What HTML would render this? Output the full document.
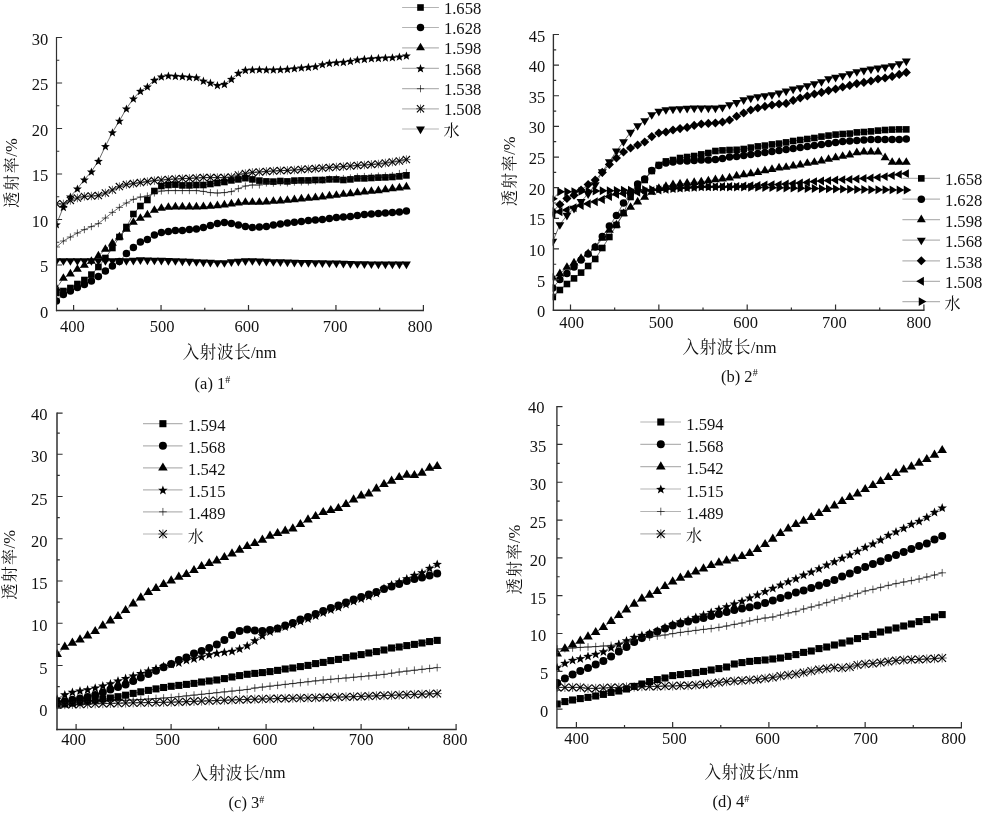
<!DOCTYPE html>
<html><head><meta charset="utf-8"><title>Figure</title>
<style>html,body{margin:0;padding:0;background:#fff}svg{display:block;will-change:transform}text{fill:#111;font-family:"Liberation Serif","Noto Serif CJK SC",serif}</style></head>
<body><svg width="1000" height="814" viewBox="0 0 1000 814">
<text x="48.2" y="317.9" font-size="16.5" text-anchor="end"  >0</text>
<text x="48.2" y="272.4" font-size="16.5" text-anchor="end"  >5</text>
<text x="48.2" y="226.9" font-size="16.5" text-anchor="end"  >10</text>
<text x="48.2" y="181.4" font-size="16.5" text-anchor="end"  >15</text>
<text x="48.2" y="135.9" font-size="16.5" text-anchor="end"  >20</text>
<text x="48.2" y="90.4" font-size="16.5" text-anchor="end"  >25</text>
<text x="48.2" y="44.9" font-size="16.5" text-anchor="end"  >30</text>
<text x="72.4" y="332.4" font-size="16.5" text-anchor="middle"  >400</text>
<text x="162" y="332.4" font-size="16.5" text-anchor="middle"  >500</text>
<text x="246.8" y="332.4" font-size="16.5" text-anchor="middle"  >600</text>
<text x="335" y="332.4" font-size="16.5" text-anchor="middle"  >700</text>
<text x="420" y="332.4" font-size="16.5" text-anchor="middle"  >800</text>
<clipPath id="ca"><rect x="55.9" y="0" width="1000" height="814"/></clipPath>
<g clip-path="url(#ca)">
<polyline points="56.4,293 63.4,291 70.4,288 77.4,284 84.4,280 91.4,274.6 98.4,267 105.4,258 112.4,248 119.4,237 126.4,227 133.4,214 140.4,206 147.4,200 154.4,191 161.4,186 168.4,185 175.4,184.6 182.4,185.4 189.4,185.4 196.4,185 203.4,185 210.4,184 217.4,183 224.4,182 231.4,180.4 238.4,179.4 245.4,178.2 252.4,179.4 259.4,180.6 266.4,181.4 273.4,181.6 280.4,181 287.4,181.4 294.4,180.6 301.4,180.4 308.4,180.4 315.4,180 322.4,180 329.4,179.4 336.4,179.4 343.4,180 350.4,179.4 357.4,178.4 364.4,178.4 371.4,178 378.4,177.6 385.4,177.4 392.4,177 399.4,176.4 406.4,175.4" fill="none" stroke="#2c2c2c" stroke-width="0.7"/>
<g fill="#000">
<rect x="53.1" y="289.7" width="6.6" height="6.6"/>
<rect x="60.1" y="287.7" width="6.6" height="6.6"/>
<rect x="67.1" y="284.7" width="6.6" height="6.6"/>
<rect x="74.1" y="280.7" width="6.6" height="6.6"/>
<rect x="81.1" y="276.7" width="6.6" height="6.6"/>
<rect x="88.1" y="271.3" width="6.6" height="6.6"/>
<rect x="95.1" y="263.7" width="6.6" height="6.6"/>
<rect x="102.1" y="254.7" width="6.6" height="6.6"/>
<rect x="109.1" y="244.7" width="6.6" height="6.6"/>
<rect x="116.1" y="233.7" width="6.6" height="6.6"/>
<rect x="123.1" y="223.7" width="6.6" height="6.6"/>
<rect x="130.1" y="210.7" width="6.6" height="6.6"/>
<rect x="137.1" y="202.7" width="6.6" height="6.6"/>
<rect x="144.1" y="196.7" width="6.6" height="6.6"/>
<rect x="151.1" y="187.7" width="6.6" height="6.6"/>
<rect x="158.1" y="182.7" width="6.6" height="6.6"/>
<rect x="165.1" y="181.7" width="6.6" height="6.6"/>
<rect x="172.1" y="181.3" width="6.6" height="6.6"/>
<rect x="179.1" y="182.1" width="6.6" height="6.6"/>
<rect x="186.1" y="182.1" width="6.6" height="6.6"/>
<rect x="193.1" y="181.7" width="6.6" height="6.6"/>
<rect x="200.1" y="181.7" width="6.6" height="6.6"/>
<rect x="207.1" y="180.7" width="6.6" height="6.6"/>
<rect x="214.1" y="179.7" width="6.6" height="6.6"/>
<rect x="221.1" y="178.7" width="6.6" height="6.6"/>
<rect x="228.1" y="177.1" width="6.6" height="6.6"/>
<rect x="235.1" y="176.1" width="6.6" height="6.6"/>
<rect x="242.1" y="174.9" width="6.6" height="6.6"/>
<rect x="249.1" y="176.1" width="6.6" height="6.6"/>
<rect x="256.1" y="177.3" width="6.6" height="6.6"/>
<rect x="263.1" y="178.1" width="6.6" height="6.6"/>
<rect x="270.1" y="178.3" width="6.6" height="6.6"/>
<rect x="277.1" y="177.7" width="6.6" height="6.6"/>
<rect x="284.1" y="178.1" width="6.6" height="6.6"/>
<rect x="291.1" y="177.3" width="6.6" height="6.6"/>
<rect x="298.1" y="177.1" width="6.6" height="6.6"/>
<rect x="305.1" y="177.1" width="6.6" height="6.6"/>
<rect x="312.1" y="176.7" width="6.6" height="6.6"/>
<rect x="319.1" y="176.7" width="6.6" height="6.6"/>
<rect x="326.1" y="176.1" width="6.6" height="6.6"/>
<rect x="333.1" y="176.1" width="6.6" height="6.6"/>
<rect x="340.1" y="176.7" width="6.6" height="6.6"/>
<rect x="347.1" y="176.1" width="6.6" height="6.6"/>
<rect x="354.1" y="175.1" width="6.6" height="6.6"/>
<rect x="361.1" y="175.1" width="6.6" height="6.6"/>
<rect x="368.1" y="174.7" width="6.6" height="6.6"/>
<rect x="375.1" y="174.3" width="6.6" height="6.6"/>
<rect x="382.1" y="174.1" width="6.6" height="6.6"/>
<rect x="389.1" y="173.7" width="6.6" height="6.6"/>
<rect x="396.1" y="173.1" width="6.6" height="6.6"/>
<rect x="403.1" y="172.1" width="6.6" height="6.6"/>
</g>
<polyline points="56.4,301 63.4,294.4 70.4,291 77.4,287.6 84.4,284.4 91.4,281 98.4,276.6 105.4,271 112.4,266 119.4,261.4 126.4,253.6 133.4,247.4 140.4,242 147.4,239.4 154.4,235 161.4,232.4 168.4,231.4 175.4,230.6 182.4,230.4 189.4,229.6 196.4,229 203.4,227.4 210.4,225.6 217.4,223.6 224.4,222.6 231.4,223.6 238.4,225 245.4,226.6 252.4,227.4 259.4,227 266.4,226.6 273.4,225 280.4,224 287.4,223 294.4,222.2 301.4,221.6 308.4,220.6 315.4,220 322.4,219.4 329.4,218.4 336.4,217.6 343.4,217 350.4,216.4 357.4,215.4 364.4,214.6 371.4,214 378.4,213.6 385.4,213 392.4,212.4 399.4,212 406.4,211" fill="none" stroke="#2c2c2c" stroke-width="0.7"/>
<g fill="#000">
<circle cx="56.4" cy="301" r="3.73"/>
<circle cx="63.4" cy="294.4" r="3.73"/>
<circle cx="70.4" cy="291" r="3.73"/>
<circle cx="77.4" cy="287.6" r="3.73"/>
<circle cx="84.4" cy="284.4" r="3.73"/>
<circle cx="91.4" cy="281" r="3.73"/>
<circle cx="98.4" cy="276.6" r="3.73"/>
<circle cx="105.4" cy="271" r="3.73"/>
<circle cx="112.4" cy="266" r="3.73"/>
<circle cx="119.4" cy="261.4" r="3.73"/>
<circle cx="126.4" cy="253.6" r="3.73"/>
<circle cx="133.4" cy="247.4" r="3.73"/>
<circle cx="140.4" cy="242" r="3.73"/>
<circle cx="147.4" cy="239.4" r="3.73"/>
<circle cx="154.4" cy="235" r="3.73"/>
<circle cx="161.4" cy="232.4" r="3.73"/>
<circle cx="168.4" cy="231.4" r="3.73"/>
<circle cx="175.4" cy="230.6" r="3.73"/>
<circle cx="182.4" cy="230.4" r="3.73"/>
<circle cx="189.4" cy="229.6" r="3.73"/>
<circle cx="196.4" cy="229" r="3.73"/>
<circle cx="203.4" cy="227.4" r="3.73"/>
<circle cx="210.4" cy="225.6" r="3.73"/>
<circle cx="217.4" cy="223.6" r="3.73"/>
<circle cx="224.4" cy="222.6" r="3.73"/>
<circle cx="231.4" cy="223.6" r="3.73"/>
<circle cx="238.4" cy="225" r="3.73"/>
<circle cx="245.4" cy="226.6" r="3.73"/>
<circle cx="252.4" cy="227.4" r="3.73"/>
<circle cx="259.4" cy="227" r="3.73"/>
<circle cx="266.4" cy="226.6" r="3.73"/>
<circle cx="273.4" cy="225" r="3.73"/>
<circle cx="280.4" cy="224" r="3.73"/>
<circle cx="287.4" cy="223" r="3.73"/>
<circle cx="294.4" cy="222.2" r="3.73"/>
<circle cx="301.4" cy="221.6" r="3.73"/>
<circle cx="308.4" cy="220.6" r="3.73"/>
<circle cx="315.4" cy="220" r="3.73"/>
<circle cx="322.4" cy="219.4" r="3.73"/>
<circle cx="329.4" cy="218.4" r="3.73"/>
<circle cx="336.4" cy="217.6" r="3.73"/>
<circle cx="343.4" cy="217" r="3.73"/>
<circle cx="350.4" cy="216.4" r="3.73"/>
<circle cx="357.4" cy="215.4" r="3.73"/>
<circle cx="364.4" cy="214.6" r="3.73"/>
<circle cx="371.4" cy="214" r="3.73"/>
<circle cx="378.4" cy="213.6" r="3.73"/>
<circle cx="385.4" cy="213" r="3.73"/>
<circle cx="392.4" cy="212.4" r="3.73"/>
<circle cx="399.4" cy="212" r="3.73"/>
<circle cx="406.4" cy="211" r="3.73"/>
</g>
<polyline points="56.4,288.32 63.4,278.32 70.4,273.92 77.4,269.32 84.4,265.32 91.4,261.32 98.4,255.92 105.4,249.32 112.4,243.32 119.4,236.92 126.4,229.32 133.4,222.32 140.4,218.32 147.4,214.92 154.4,210.32 161.4,208.32 168.4,207.32 175.4,206.92 182.4,206.92 189.4,206.92 196.4,206.92 203.4,206.72 210.4,206.32 217.4,205.72 224.4,204.92 231.4,203.92 238.4,202.92 245.4,202.32 252.4,202.32 259.4,202.32 266.4,201.92 273.4,201.32 280.4,200.92 287.4,200.32 294.4,199.72 301.4,198.92 308.4,198.32 315.4,197.72 322.4,196.92 329.4,195.92 336.4,195.32 343.4,194.32 350.4,193.72 357.4,192.72 364.4,191.92 371.4,191.32 378.4,190.72 385.4,189.72 392.4,188.72 399.4,187.92 406.4,186.92" fill="none" stroke="#2c2c2c" stroke-width="0.7"/>
<g fill="#000">
<path d="M56.4 283.17L60.86 290.83L51.94 290.83Z"/>
<path d="M63.4 273.17L67.86 280.83L58.94 280.83Z"/>
<path d="M70.4 268.77L74.86 276.43L65.94 276.43Z"/>
<path d="M77.4 264.17L81.86 271.83L72.94 271.83Z"/>
<path d="M84.4 260.17L88.86 267.83L79.94 267.83Z"/>
<path d="M91.4 256.17L95.86 263.83L86.94 263.83Z"/>
<path d="M98.4 250.77L102.86 258.43L93.94 258.43Z"/>
<path d="M105.4 244.17L109.86 251.83L100.94 251.83Z"/>
<path d="M112.4 238.17L116.86 245.83L107.94 245.83Z"/>
<path d="M119.4 231.77L123.86 239.43L114.94 239.43Z"/>
<path d="M126.4 224.17L130.86 231.83L121.94 231.83Z"/>
<path d="M133.4 217.17L137.86 224.83L128.94 224.83Z"/>
<path d="M140.4 213.17L144.86 220.83L135.94 220.83Z"/>
<path d="M147.4 209.77L151.86 217.43L142.94 217.43Z"/>
<path d="M154.4 205.17L158.86 212.83L149.94 212.83Z"/>
<path d="M161.4 203.17L165.86 210.83L156.94 210.83Z"/>
<path d="M168.4 202.17L172.86 209.83L163.94 209.83Z"/>
<path d="M175.4 201.77L179.86 209.43L170.94 209.43Z"/>
<path d="M182.4 201.77L186.86 209.43L177.94 209.43Z"/>
<path d="M189.4 201.77L193.86 209.43L184.94 209.43Z"/>
<path d="M196.4 201.77L200.86 209.43L191.94 209.43Z"/>
<path d="M203.4 201.57L207.86 209.23L198.94 209.23Z"/>
<path d="M210.4 201.17L214.86 208.83L205.94 208.83Z"/>
<path d="M217.4 200.57L221.86 208.23L212.94 208.23Z"/>
<path d="M224.4 199.77L228.86 207.43L219.94 207.43Z"/>
<path d="M231.4 198.77L235.86 206.43L226.94 206.43Z"/>
<path d="M238.4 197.77L242.86 205.43L233.94 205.43Z"/>
<path d="M245.4 197.17L249.86 204.83L240.94 204.83Z"/>
<path d="M252.4 197.17L256.86 204.83L247.94 204.83Z"/>
<path d="M259.4 197.17L263.86 204.83L254.94 204.83Z"/>
<path d="M266.4 196.77L270.86 204.43L261.94 204.43Z"/>
<path d="M273.4 196.17L277.86 203.83L268.94 203.83Z"/>
<path d="M280.4 195.77L284.86 203.43L275.94 203.43Z"/>
<path d="M287.4 195.17L291.86 202.83L282.94 202.83Z"/>
<path d="M294.4 194.57L298.86 202.23L289.94 202.23Z"/>
<path d="M301.4 193.77L305.86 201.43L296.94 201.43Z"/>
<path d="M308.4 193.17L312.86 200.83L303.94 200.83Z"/>
<path d="M315.4 192.57L319.86 200.23L310.94 200.23Z"/>
<path d="M322.4 191.77L326.86 199.43L317.94 199.43Z"/>
<path d="M329.4 190.77L333.86 198.43L324.94 198.43Z"/>
<path d="M336.4 190.17L340.86 197.83L331.94 197.83Z"/>
<path d="M343.4 189.17L347.86 196.83L338.94 196.83Z"/>
<path d="M350.4 188.57L354.86 196.23L345.94 196.23Z"/>
<path d="M357.4 187.57L361.86 195.23L352.94 195.23Z"/>
<path d="M364.4 186.77L368.86 194.43L359.94 194.43Z"/>
<path d="M371.4 186.17L375.86 193.83L366.94 193.83Z"/>
<path d="M378.4 185.57L382.86 193.23L373.94 193.23Z"/>
<path d="M385.4 184.57L389.86 192.23L380.94 192.23Z"/>
<path d="M392.4 183.57L396.86 191.23L387.94 191.23Z"/>
<path d="M399.4 182.77L403.86 190.43L394.94 190.43Z"/>
<path d="M406.4 181.77L410.86 189.43L401.94 189.43Z"/>
</g>
<polyline points="56.4,224.4 63.4,207 70.4,196.6 77.4,188.6 84.4,179.6 91.4,171.6 98.4,161 105.4,146.2 112.4,132.4 119.4,120.8 126.4,108.6 133.4,98.6 140.4,91 147.4,86.6 154.4,80 161.4,76.6 168.4,75.6 175.4,76 182.4,76.4 189.4,77 196.4,77.4 203.4,80.8 210.4,82.8 217.4,85.2 224.4,84 231.4,79 238.4,73 245.4,70 252.4,69.6 259.4,69.4 266.4,69.6 273.4,69.6 280.4,69.4 287.4,69 294.4,68.4 301.4,67.6 308.4,67 315.4,66.4 322.4,64.4 329.4,63 336.4,62.4 343.4,62 350.4,61 357.4,59.6 364.4,59 371.4,58.4 378.4,58 385.4,57.6 392.4,57.4 399.4,56.6 406.4,55.6" fill="none" stroke="#2c2c2c" stroke-width="0.7"/>
<g fill="#000">
<path d="M56.4 220.19L57.55 223.26L60.83 223.41L58.26 225.45L59.14 228.61L56.4 226.8L53.66 228.61L54.54 225.45L51.97 223.41L55.25 223.26Z"/>
<path d="M63.4 202.79L64.55 205.86L67.83 206.01L65.26 208.05L66.14 211.21L63.4 209.4L60.66 211.21L61.54 208.05L58.97 206.01L62.25 205.86Z"/>
<path d="M70.4 192.39L71.55 195.46L74.83 195.61L72.26 197.65L73.14 200.81L70.4 199L67.66 200.81L68.54 197.65L65.97 195.61L69.25 195.46Z"/>
<path d="M77.4 184.39L78.55 187.46L81.83 187.61L79.26 189.65L80.14 192.81L77.4 191L74.66 192.81L75.54 189.65L72.97 187.61L76.25 187.46Z"/>
<path d="M84.4 175.39L85.55 178.46L88.83 178.61L86.26 180.65L87.14 183.81L84.4 182L81.66 183.81L82.54 180.65L79.97 178.61L83.25 178.46Z"/>
<path d="M91.4 167.39L92.55 170.46L95.83 170.61L93.26 172.65L94.14 175.81L91.4 174L88.66 175.81L89.54 172.65L86.97 170.61L90.25 170.46Z"/>
<path d="M98.4 156.79L99.55 159.86L102.83 160.01L100.26 162.05L101.14 165.21L98.4 163.4L95.66 165.21L96.54 162.05L93.97 160.01L97.25 159.86Z"/>
<path d="M105.4 141.99L106.55 145.06L109.83 145.21L107.26 147.25L108.14 150.41L105.4 148.6L102.66 150.41L103.54 147.25L100.97 145.21L104.25 145.06Z"/>
<path d="M112.4 128.19L113.55 131.26L116.83 131.41L114.26 133.45L115.14 136.61L112.4 134.8L109.66 136.61L110.54 133.45L107.97 131.41L111.25 131.26Z"/>
<path d="M119.4 116.59L120.55 119.66L123.83 119.81L121.26 121.85L122.14 125.01L119.4 123.2L116.66 125.01L117.54 121.85L114.97 119.81L118.25 119.66Z"/>
<path d="M126.4 104.39L127.55 107.46L130.83 107.61L128.26 109.65L129.14 112.81L126.4 111L123.66 112.81L124.54 109.65L121.97 107.61L125.25 107.46Z"/>
<path d="M133.4 94.39L134.55 97.46L137.83 97.61L135.26 99.65L136.14 102.81L133.4 101L130.66 102.81L131.54 99.65L128.97 97.61L132.25 97.46Z"/>
<path d="M140.4 86.79L141.55 89.86L144.83 90.01L142.26 92.05L143.14 95.21L140.4 93.4L137.66 95.21L138.54 92.05L135.97 90.01L139.25 89.86Z"/>
<path d="M147.4 82.39L148.55 85.46L151.83 85.61L149.26 87.65L150.14 90.81L147.4 89L144.66 90.81L145.54 87.65L142.97 85.61L146.25 85.46Z"/>
<path d="M154.4 75.79L155.55 78.86L158.83 79.01L156.26 81.05L157.14 84.21L154.4 82.4L151.66 84.21L152.54 81.05L149.97 79.01L153.25 78.86Z"/>
<path d="M161.4 72.39L162.55 75.46L165.83 75.61L163.26 77.65L164.14 80.81L161.4 79L158.66 80.81L159.54 77.65L156.97 75.61L160.25 75.46Z"/>
<path d="M168.4 71.39L169.55 74.46L172.83 74.61L170.26 76.65L171.14 79.81L168.4 78L165.66 79.81L166.54 76.65L163.97 74.61L167.25 74.46Z"/>
<path d="M175.4 71.79L176.55 74.86L179.83 75.01L177.26 77.05L178.14 80.21L175.4 78.4L172.66 80.21L173.54 77.05L170.97 75.01L174.25 74.86Z"/>
<path d="M182.4 72.19L183.55 75.26L186.83 75.41L184.26 77.45L185.14 80.61L182.4 78.8L179.66 80.61L180.54 77.45L177.97 75.41L181.25 75.26Z"/>
<path d="M189.4 72.79L190.55 75.86L193.83 76.01L191.26 78.05L192.14 81.21L189.4 79.4L186.66 81.21L187.54 78.05L184.97 76.01L188.25 75.86Z"/>
<path d="M196.4 73.19L197.55 76.26L200.83 76.41L198.26 78.45L199.14 81.61L196.4 79.8L193.66 81.61L194.54 78.45L191.97 76.41L195.25 76.26Z"/>
<path d="M203.4 76.59L204.55 79.66L207.83 79.81L205.26 81.85L206.14 85.01L203.4 83.2L200.66 85.01L201.54 81.85L198.97 79.81L202.25 79.66Z"/>
<path d="M210.4 78.59L211.55 81.66L214.83 81.81L212.26 83.85L213.14 87.01L210.4 85.2L207.66 87.01L208.54 83.85L205.97 81.81L209.25 81.66Z"/>
<path d="M217.4 80.99L218.55 84.06L221.83 84.21L219.26 86.25L220.14 89.41L217.4 87.6L214.66 89.41L215.54 86.25L212.97 84.21L216.25 84.06Z"/>
<path d="M224.4 79.79L225.55 82.86L228.83 83.01L226.26 85.05L227.14 88.21L224.4 86.4L221.66 88.21L222.54 85.05L219.97 83.01L223.25 82.86Z"/>
<path d="M231.4 74.79L232.55 77.86L235.83 78.01L233.26 80.05L234.14 83.21L231.4 81.4L228.66 83.21L229.54 80.05L226.97 78.01L230.25 77.86Z"/>
<path d="M238.4 68.79L239.55 71.86L242.83 72.01L240.26 74.05L241.14 77.21L238.4 75.4L235.66 77.21L236.54 74.05L233.97 72.01L237.25 71.86Z"/>
<path d="M245.4 65.79L246.55 68.86L249.83 69.01L247.26 71.05L248.14 74.21L245.4 72.4L242.66 74.21L243.54 71.05L240.97 69.01L244.25 68.86Z"/>
<path d="M252.4 65.39L253.55 68.46L256.83 68.61L254.26 70.65L255.14 73.81L252.4 72L249.66 73.81L250.54 70.65L247.97 68.61L251.25 68.46Z"/>
<path d="M259.4 65.19L260.55 68.26L263.83 68.41L261.26 70.45L262.14 73.61L259.4 71.8L256.66 73.61L257.54 70.45L254.97 68.41L258.25 68.26Z"/>
<path d="M266.4 65.39L267.55 68.46L270.83 68.61L268.26 70.65L269.14 73.81L266.4 72L263.66 73.81L264.54 70.65L261.97 68.61L265.25 68.46Z"/>
<path d="M273.4 65.39L274.55 68.46L277.83 68.61L275.26 70.65L276.14 73.81L273.4 72L270.66 73.81L271.54 70.65L268.97 68.61L272.25 68.46Z"/>
<path d="M280.4 65.19L281.55 68.26L284.83 68.41L282.26 70.45L283.14 73.61L280.4 71.8L277.66 73.61L278.54 70.45L275.97 68.41L279.25 68.26Z"/>
<path d="M287.4 64.79L288.55 67.86L291.83 68.01L289.26 70.05L290.14 73.21L287.4 71.4L284.66 73.21L285.54 70.05L282.97 68.01L286.25 67.86Z"/>
<path d="M294.4 64.19L295.55 67.26L298.83 67.41L296.26 69.45L297.14 72.61L294.4 70.8L291.66 72.61L292.54 69.45L289.97 67.41L293.25 67.26Z"/>
<path d="M301.4 63.39L302.55 66.46L305.83 66.61L303.26 68.65L304.14 71.81L301.4 70L298.66 71.81L299.54 68.65L296.97 66.61L300.25 66.46Z"/>
<path d="M308.4 62.79L309.55 65.86L312.83 66.01L310.26 68.05L311.14 71.21L308.4 69.4L305.66 71.21L306.54 68.05L303.97 66.01L307.25 65.86Z"/>
<path d="M315.4 62.19L316.55 65.26L319.83 65.41L317.26 67.45L318.14 70.61L315.4 68.8L312.66 70.61L313.54 67.45L310.97 65.41L314.25 65.26Z"/>
<path d="M322.4 60.19L323.55 63.26L326.83 63.41L324.26 65.45L325.14 68.61L322.4 66.8L319.66 68.61L320.54 65.45L317.97 63.41L321.25 63.26Z"/>
<path d="M329.4 58.79L330.55 61.86L333.83 62.01L331.26 64.05L332.14 67.21L329.4 65.4L326.66 67.21L327.54 64.05L324.97 62.01L328.25 61.86Z"/>
<path d="M336.4 58.19L337.55 61.26L340.83 61.41L338.26 63.45L339.14 66.61L336.4 64.8L333.66 66.61L334.54 63.45L331.97 61.41L335.25 61.26Z"/>
<path d="M343.4 57.79L344.55 60.86L347.83 61.01L345.26 63.05L346.14 66.21L343.4 64.4L340.66 66.21L341.54 63.05L338.97 61.01L342.25 60.86Z"/>
<path d="M350.4 56.79L351.55 59.86L354.83 60.01L352.26 62.05L353.14 65.21L350.4 63.4L347.66 65.21L348.54 62.05L345.97 60.01L349.25 59.86Z"/>
<path d="M357.4 55.39L358.55 58.46L361.83 58.61L359.26 60.65L360.14 63.81L357.4 62L354.66 63.81L355.54 60.65L352.97 58.61L356.25 58.46Z"/>
<path d="M364.4 54.79L365.55 57.86L368.83 58.01L366.26 60.05L367.14 63.21L364.4 61.4L361.66 63.21L362.54 60.05L359.97 58.01L363.25 57.86Z"/>
<path d="M371.4 54.19L372.55 57.26L375.83 57.41L373.26 59.45L374.14 62.61L371.4 60.8L368.66 62.61L369.54 59.45L366.97 57.41L370.25 57.26Z"/>
<path d="M378.4 53.79L379.55 56.86L382.83 57.01L380.26 59.05L381.14 62.21L378.4 60.4L375.66 62.21L376.54 59.05L373.97 57.01L377.25 56.86Z"/>
<path d="M385.4 53.39L386.55 56.46L389.83 56.61L387.26 58.65L388.14 61.81L385.4 60L382.66 61.81L383.54 58.65L380.97 56.61L384.25 56.46Z"/>
<path d="M392.4 53.19L393.55 56.26L396.83 56.41L394.26 58.45L395.14 61.61L392.4 59.8L389.66 61.61L390.54 58.45L387.97 56.41L391.25 56.26Z"/>
<path d="M399.4 52.39L400.55 55.46L403.83 55.61L401.26 57.65L402.14 60.81L399.4 59L396.66 60.81L397.54 57.65L394.97 55.61L398.25 55.46Z"/>
<path d="M406.4 51.39L407.55 54.46L410.83 54.61L408.26 56.65L409.14 59.81L406.4 58L403.66 59.81L404.54 56.65L401.97 54.61L405.25 54.46Z"/>
</g>
<polyline points="56.4,247 63.4,241 70.4,237 77.4,233 84.4,229.6 91.4,226.6 98.4,223.6 105.4,218 112.4,212.4 119.4,207.4 126.4,203 133.4,199.4 140.4,197 147.4,196 154.4,193 161.4,191 168.4,190.6 175.4,190.6 182.4,190.6 189.4,190.6 196.4,190.6 203.4,191.4 210.4,192.6 217.4,193 224.4,192.6 231.4,191.6 238.4,188.6 245.4,186 252.4,185 259.4,185 266.4,183 273.4,183.1 280.4,182.5 287.4,182.9 294.4,182.1 301.4,181.9 308.4,181.9 315.4,181 322.4,180 329.4,179 336.4,178.4 343.4,178.5 350.4,177.9 357.4,176.9 364.4,176.5 371.4,176.5 378.4,176.1 385.4,175.9 392.4,175.5 399.4,173.5 406.4,172.5" fill="none" stroke="#2c2c2c" stroke-width="0.7"/>
<g fill="none" stroke="#000" stroke-width="0.62">
<path d="M52.81 247H59.99M56.4 243.41V250.59"/>
<path d="M59.81 241H66.99M63.4 237.41V244.59"/>
<path d="M66.81 237H73.99M70.4 233.41V240.59"/>
<path d="M73.81 233H80.99M77.4 229.41V236.59"/>
<path d="M80.81 229.6H87.99M84.4 226.01V233.19"/>
<path d="M87.81 226.6H94.99M91.4 223.01V230.19"/>
<path d="M94.81 223.6H101.99M98.4 220.01V227.19"/>
<path d="M101.81 218H108.99M105.4 214.41V221.59"/>
<path d="M108.81 212.4H115.99M112.4 208.81V215.99"/>
<path d="M115.81 207.4H122.99M119.4 203.81V210.99"/>
<path d="M122.81 203H129.99M126.4 199.41V206.59"/>
<path d="M129.81 199.4H136.99M133.4 195.81V202.99"/>
<path d="M136.81 197H143.99M140.4 193.41V200.59"/>
<path d="M143.81 196H150.99M147.4 192.41V199.59"/>
<path d="M150.81 193H157.99M154.4 189.41V196.59"/>
<path d="M157.81 191H164.99M161.4 187.41V194.59"/>
<path d="M164.81 190.6H171.99M168.4 187.01V194.19"/>
<path d="M171.81 190.6H178.99M175.4 187.01V194.19"/>
<path d="M178.81 190.6H185.99M182.4 187.01V194.19"/>
<path d="M185.81 190.6H192.99M189.4 187.01V194.19"/>
<path d="M192.81 190.6H199.99M196.4 187.01V194.19"/>
<path d="M199.81 191.4H206.99M203.4 187.81V194.99"/>
<path d="M206.81 192.6H213.99M210.4 189.01V196.19"/>
<path d="M213.81 193H220.99M217.4 189.41V196.59"/>
<path d="M220.81 192.6H227.99M224.4 189.01V196.19"/>
<path d="M227.81 191.6H234.99M231.4 188.01V195.19"/>
<path d="M234.81 188.6H241.99M238.4 185.01V192.19"/>
<path d="M241.81 186H248.99M245.4 182.41V189.59"/>
<path d="M248.81 185H255.99M252.4 181.41V188.59"/>
<path d="M255.81 185H262.99M259.4 181.41V188.59"/>
<path d="M262.81 183H269.99M266.4 179.41V186.59"/>
<path d="M269.81 183.1H276.99M273.4 179.51V186.69"/>
<path d="M276.81 182.5H283.99M280.4 178.91V186.09"/>
<path d="M283.81 182.9H290.99M287.4 179.31V186.49"/>
<path d="M290.81 182.1H297.99M294.4 178.51V185.69"/>
<path d="M297.81 181.9H304.99M301.4 178.31V185.49"/>
<path d="M304.81 181.9H311.99M308.4 178.31V185.49"/>
<path d="M311.81 181H318.99M315.4 177.41V184.59"/>
<path d="M318.81 180H325.99M322.4 176.41V183.59"/>
<path d="M325.81 179H332.99M329.4 175.41V182.59"/>
<path d="M332.81 178.4H339.99M336.4 174.81V181.99"/>
<path d="M339.81 178.5H346.99M343.4 174.91V182.09"/>
<path d="M346.81 177.9H353.99M350.4 174.31V181.49"/>
<path d="M353.81 176.9H360.99M357.4 173.31V180.49"/>
<path d="M360.81 176.5H367.99M364.4 172.91V180.09"/>
<path d="M367.81 176.5H374.99M371.4 172.91V180.09"/>
<path d="M374.81 176.1H381.99M378.4 172.51V179.69"/>
<path d="M381.81 175.9H388.99M385.4 172.31V179.49"/>
<path d="M388.81 175.5H395.99M392.4 171.91V179.09"/>
<path d="M395.81 173.5H402.99M399.4 169.91V177.09"/>
<path d="M402.81 172.5H409.99M406.4 168.91V176.09"/>
</g>
<polyline points="56.4,203.8 63.4,204 70.4,200.4 77.4,198 84.4,196.4 91.4,196 98.4,195.6 105.4,193 112.4,190 119.4,186.6 126.4,184.6 133.4,183.6 140.4,182.6 147.4,181.6 154.4,180.6 161.4,180 168.4,179.4 175.4,179 182.4,178.6 189.4,178.4 196.4,178 203.4,177.6 210.4,177.6 217.4,177.6 224.4,177.6 231.4,177 238.4,175 245.4,173.6 252.4,172.4 259.4,172 266.4,171.4 273.4,171 280.4,170.6 287.4,170.4 294.4,170 301.4,169.4 308.4,169 315.4,168.6 322.4,168 329.4,167.6 336.4,167 343.4,166.6 350.4,166 357.4,165.4 364.4,165 371.4,164.4 378.4,164 385.4,163 392.4,162 399.4,161 406.4,159.6" fill="none" stroke="#2c2c2c" stroke-width="0.7"/>
<g fill="none" stroke="#000" stroke-width="1.1">
<path stroke-width="0.6" d="M52.13 203.8H60.67M56.4 199.53V208.07"/><path d="M52.81 200.21L59.99 207.39M52.81 207.39L59.99 200.21"/>
<path stroke-width="0.6" d="M59.13 204H67.67M63.4 199.73V208.27"/><path d="M59.81 200.41L66.99 207.59M59.81 207.59L66.99 200.41"/>
<path stroke-width="0.6" d="M66.13 200.4H74.67M70.4 196.13V204.67"/><path d="M66.81 196.81L73.99 203.99M66.81 203.99L73.99 196.81"/>
<path stroke-width="0.6" d="M73.13 198H81.67M77.4 193.73V202.27"/><path d="M73.81 194.41L80.99 201.59M73.81 201.59L80.99 194.41"/>
<path stroke-width="0.6" d="M80.13 196.4H88.67M84.4 192.13V200.67"/><path d="M80.81 192.81L87.99 199.99M80.81 199.99L87.99 192.81"/>
<path stroke-width="0.6" d="M87.13 196H95.67M91.4 191.73V200.27"/><path d="M87.81 192.41L94.99 199.59M87.81 199.59L94.99 192.41"/>
<path stroke-width="0.6" d="M94.13 195.6H102.67M98.4 191.33V199.87"/><path d="M94.81 192.01L101.99 199.19M94.81 199.19L101.99 192.01"/>
<path stroke-width="0.6" d="M101.13 193H109.67M105.4 188.73V197.27"/><path d="M101.81 189.41L108.99 196.59M101.81 196.59L108.99 189.41"/>
<path stroke-width="0.6" d="M108.13 190H116.67M112.4 185.73V194.27"/><path d="M108.81 186.41L115.99 193.59M108.81 193.59L115.99 186.41"/>
<path stroke-width="0.6" d="M115.13 186.6H123.67M119.4 182.33V190.87"/><path d="M115.81 183.01L122.99 190.19M115.81 190.19L122.99 183.01"/>
<path stroke-width="0.6" d="M122.13 184.6H130.67M126.4 180.33V188.87"/><path d="M122.81 181.01L129.99 188.19M122.81 188.19L129.99 181.01"/>
<path stroke-width="0.6" d="M129.13 183.6H137.67M133.4 179.33V187.87"/><path d="M129.81 180.01L136.99 187.19M129.81 187.19L136.99 180.01"/>
<path stroke-width="0.6" d="M136.13 182.6H144.67M140.4 178.33V186.87"/><path d="M136.81 179.01L143.99 186.19M136.81 186.19L143.99 179.01"/>
<path stroke-width="0.6" d="M143.13 181.6H151.67M147.4 177.33V185.87"/><path d="M143.81 178.01L150.99 185.19M143.81 185.19L150.99 178.01"/>
<path stroke-width="0.6" d="M150.13 180.6H158.67M154.4 176.33V184.87"/><path d="M150.81 177.01L157.99 184.19M150.81 184.19L157.99 177.01"/>
<path stroke-width="0.6" d="M157.13 180H165.67M161.4 175.73V184.27"/><path d="M157.81 176.41L164.99 183.59M157.81 183.59L164.99 176.41"/>
<path stroke-width="0.6" d="M164.13 179.4H172.67M168.4 175.13V183.67"/><path d="M164.81 175.81L171.99 182.99M164.81 182.99L171.99 175.81"/>
<path stroke-width="0.6" d="M171.13 179H179.67M175.4 174.73V183.27"/><path d="M171.81 175.41L178.99 182.59M171.81 182.59L178.99 175.41"/>
<path stroke-width="0.6" d="M178.13 178.6H186.67M182.4 174.33V182.87"/><path d="M178.81 175.01L185.99 182.19M178.81 182.19L185.99 175.01"/>
<path stroke-width="0.6" d="M185.13 178.4H193.67M189.4 174.13V182.67"/><path d="M185.81 174.81L192.99 181.99M185.81 181.99L192.99 174.81"/>
<path stroke-width="0.6" d="M192.13 178H200.67M196.4 173.73V182.27"/><path d="M192.81 174.41L199.99 181.59M192.81 181.59L199.99 174.41"/>
<path stroke-width="0.6" d="M199.13 177.6H207.67M203.4 173.33V181.87"/><path d="M199.81 174.01L206.99 181.19M199.81 181.19L206.99 174.01"/>
<path stroke-width="0.6" d="M206.13 177.6H214.67M210.4 173.33V181.87"/><path d="M206.81 174.01L213.99 181.19M206.81 181.19L213.99 174.01"/>
<path stroke-width="0.6" d="M213.13 177.6H221.67M217.4 173.33V181.87"/><path d="M213.81 174.01L220.99 181.19M213.81 181.19L220.99 174.01"/>
<path stroke-width="0.6" d="M220.13 177.6H228.67M224.4 173.33V181.87"/><path d="M220.81 174.01L227.99 181.19M220.81 181.19L227.99 174.01"/>
<path stroke-width="0.6" d="M227.13 177H235.67M231.4 172.73V181.27"/><path d="M227.81 173.41L234.99 180.59M227.81 180.59L234.99 173.41"/>
<path stroke-width="0.6" d="M234.13 175H242.67M238.4 170.73V179.27"/><path d="M234.81 171.41L241.99 178.59M234.81 178.59L241.99 171.41"/>
<path stroke-width="0.6" d="M241.13 173.6H249.67M245.4 169.33V177.87"/><path d="M241.81 170.01L248.99 177.19M241.81 177.19L248.99 170.01"/>
<path stroke-width="0.6" d="M248.13 172.4H256.67M252.4 168.13V176.67"/><path d="M248.81 168.81L255.99 175.99M248.81 175.99L255.99 168.81"/>
<path stroke-width="0.6" d="M255.13 172H263.67M259.4 167.73V176.27"/><path d="M255.81 168.41L262.99 175.59M255.81 175.59L262.99 168.41"/>
<path stroke-width="0.6" d="M262.13 171.4H270.67M266.4 167.13V175.67"/><path d="M262.81 167.81L269.99 174.99M262.81 174.99L269.99 167.81"/>
<path stroke-width="0.6" d="M269.13 171H277.67M273.4 166.73V175.27"/><path d="M269.81 167.41L276.99 174.59M269.81 174.59L276.99 167.41"/>
<path stroke-width="0.6" d="M276.13 170.6H284.67M280.4 166.33V174.87"/><path d="M276.81 167.01L283.99 174.19M276.81 174.19L283.99 167.01"/>
<path stroke-width="0.6" d="M283.13 170.4H291.67M287.4 166.13V174.67"/><path d="M283.81 166.81L290.99 173.99M283.81 173.99L290.99 166.81"/>
<path stroke-width="0.6" d="M290.13 170H298.67M294.4 165.73V174.27"/><path d="M290.81 166.41L297.99 173.59M290.81 173.59L297.99 166.41"/>
<path stroke-width="0.6" d="M297.13 169.4H305.67M301.4 165.13V173.67"/><path d="M297.81 165.81L304.99 172.99M297.81 172.99L304.99 165.81"/>
<path stroke-width="0.6" d="M304.13 169H312.67M308.4 164.73V173.27"/><path d="M304.81 165.41L311.99 172.59M304.81 172.59L311.99 165.41"/>
<path stroke-width="0.6" d="M311.13 168.6H319.67M315.4 164.33V172.87"/><path d="M311.81 165.01L318.99 172.19M311.81 172.19L318.99 165.01"/>
<path stroke-width="0.6" d="M318.13 168H326.67M322.4 163.73V172.27"/><path d="M318.81 164.41L325.99 171.59M318.81 171.59L325.99 164.41"/>
<path stroke-width="0.6" d="M325.13 167.6H333.67M329.4 163.33V171.87"/><path d="M325.81 164.01L332.99 171.19M325.81 171.19L332.99 164.01"/>
<path stroke-width="0.6" d="M332.13 167H340.67M336.4 162.73V171.27"/><path d="M332.81 163.41L339.99 170.59M332.81 170.59L339.99 163.41"/>
<path stroke-width="0.6" d="M339.13 166.6H347.67M343.4 162.33V170.87"/><path d="M339.81 163.01L346.99 170.19M339.81 170.19L346.99 163.01"/>
<path stroke-width="0.6" d="M346.13 166H354.67M350.4 161.73V170.27"/><path d="M346.81 162.41L353.99 169.59M346.81 169.59L353.99 162.41"/>
<path stroke-width="0.6" d="M353.13 165.4H361.67M357.4 161.13V169.67"/><path d="M353.81 161.81L360.99 168.99M353.81 168.99L360.99 161.81"/>
<path stroke-width="0.6" d="M360.13 165H368.67M364.4 160.73V169.27"/><path d="M360.81 161.41L367.99 168.59M360.81 168.59L367.99 161.41"/>
<path stroke-width="0.6" d="M367.13 164.4H375.67M371.4 160.13V168.67"/><path d="M367.81 160.81L374.99 167.99M367.81 167.99L374.99 160.81"/>
<path stroke-width="0.6" d="M374.13 164H382.67M378.4 159.73V168.27"/><path d="M374.81 160.41L381.99 167.59M374.81 167.59L381.99 160.41"/>
<path stroke-width="0.6" d="M381.13 163H389.67M385.4 158.73V167.27"/><path d="M381.81 159.41L388.99 166.59M381.81 166.59L388.99 159.41"/>
<path stroke-width="0.6" d="M388.13 162H396.67M392.4 157.73V166.27"/><path d="M388.81 158.41L395.99 165.59M388.81 165.59L395.99 158.41"/>
<path stroke-width="0.6" d="M395.13 161H403.67M399.4 156.73V165.27"/><path d="M395.81 157.41L402.99 164.59M395.81 164.59L402.99 157.41"/>
<path stroke-width="0.6" d="M402.13 159.6H410.67M406.4 155.33V163.87"/><path d="M402.81 156.01L409.99 163.19M402.81 163.19L409.99 156.01"/>
</g>
<polyline points="56.4,260.68 63.4,260.68 70.4,260.68 77.4,260.68 84.4,260.68 91.4,260.68 98.4,260.68 105.4,260.68 112.4,260.68 119.4,260.68 126.4,260.68 133.4,260.28 140.4,259.88 147.4,260.04 154.4,260.2 161.4,260.36 168.4,260.52 175.4,260.68 182.4,261.02 189.4,261.35 196.4,261.68 203.4,262.02 210.4,262.35 217.4,262.68 224.4,262.68 231.4,261.88 238.4,261.38 245.4,260.88 252.4,260.68 259.4,261.02 266.4,261.35 273.4,261.68 280.4,261.88 287.4,262.08 294.4,262.28 301.4,262.42 308.4,262.55 315.4,262.68 322.4,262.82 329.4,262.95 336.4,263.08 343.4,263.28 350.4,263.48 357.4,263.68 364.4,263.82 371.4,263.95 378.4,264.08 385.4,264.08 392.4,264.08 399.4,264.08 406.4,264.08" fill="none" stroke="#2c2c2c" stroke-width="0.7"/>
<g fill="#000">
<path d="M56.4 265.83L60.86 258.17L51.94 258.17Z"/>
<path d="M63.4 265.83L67.86 258.17L58.94 258.17Z"/>
<path d="M70.4 265.83L74.86 258.17L65.94 258.17Z"/>
<path d="M77.4 265.83L81.86 258.17L72.94 258.17Z"/>
<path d="M84.4 265.83L88.86 258.17L79.94 258.17Z"/>
<path d="M91.4 265.83L95.86 258.17L86.94 258.17Z"/>
<path d="M98.4 265.83L102.86 258.17L93.94 258.17Z"/>
<path d="M105.4 265.83L109.86 258.17L100.94 258.17Z"/>
<path d="M112.4 265.83L116.86 258.17L107.94 258.17Z"/>
<path d="M119.4 265.83L123.86 258.17L114.94 258.17Z"/>
<path d="M126.4 265.83L130.86 258.17L121.94 258.17Z"/>
<path d="M133.4 265.43L137.86 257.77L128.94 257.77Z"/>
<path d="M140.4 265.03L144.86 257.37L135.94 257.37Z"/>
<path d="M147.4 265.19L151.86 257.53L142.94 257.53Z"/>
<path d="M154.4 265.35L158.86 257.69L149.94 257.69Z"/>
<path d="M161.4 265.51L165.86 257.85L156.94 257.85Z"/>
<path d="M168.4 265.67L172.86 258.01L163.94 258.01Z"/>
<path d="M175.4 265.83L179.86 258.17L170.94 258.17Z"/>
<path d="M182.4 266.16L186.86 258.5L177.94 258.5Z"/>
<path d="M189.4 266.5L193.86 258.84L184.94 258.84Z"/>
<path d="M196.4 266.83L200.86 259.17L191.94 259.17Z"/>
<path d="M203.4 267.16L207.86 259.5L198.94 259.5Z"/>
<path d="M210.4 267.5L214.86 259.84L205.94 259.84Z"/>
<path d="M217.4 267.83L221.86 260.17L212.94 260.17Z"/>
<path d="M224.4 267.83L228.86 260.17L219.94 260.17Z"/>
<path d="M231.4 267.03L235.86 259.37L226.94 259.37Z"/>
<path d="M238.4 266.53L242.86 258.87L233.94 258.87Z"/>
<path d="M245.4 266.03L249.86 258.37L240.94 258.37Z"/>
<path d="M252.4 265.83L256.86 258.17L247.94 258.17Z"/>
<path d="M259.4 266.16L263.86 258.5L254.94 258.5Z"/>
<path d="M266.4 266.5L270.86 258.84L261.94 258.84Z"/>
<path d="M273.4 266.83L277.86 259.17L268.94 259.17Z"/>
<path d="M280.4 267.03L284.86 259.37L275.94 259.37Z"/>
<path d="M287.4 267.23L291.86 259.57L282.94 259.57Z"/>
<path d="M294.4 267.43L298.86 259.77L289.94 259.77Z"/>
<path d="M301.4 267.56L305.86 259.9L296.94 259.9Z"/>
<path d="M308.4 267.7L312.86 260.04L303.94 260.04Z"/>
<path d="M315.4 267.83L319.86 260.17L310.94 260.17Z"/>
<path d="M322.4 267.96L326.86 260.3L317.94 260.3Z"/>
<path d="M329.4 268.1L333.86 260.44L324.94 260.44Z"/>
<path d="M336.4 268.23L340.86 260.57L331.94 260.57Z"/>
<path d="M343.4 268.43L347.86 260.77L338.94 260.77Z"/>
<path d="M350.4 268.63L354.86 260.97L345.94 260.97Z"/>
<path d="M357.4 268.83L361.86 261.17L352.94 261.17Z"/>
<path d="M364.4 268.96L368.86 261.3L359.94 261.3Z"/>
<path d="M371.4 269.1L375.86 261.44L366.94 261.44Z"/>
<path d="M378.4 269.23L382.86 261.57L373.94 261.57Z"/>
<path d="M385.4 269.23L389.86 261.57L380.94 261.57Z"/>
<path d="M392.4 269.23L396.86 261.57L387.94 261.57Z"/>
<path d="M399.4 269.23L403.86 261.57L394.94 261.57Z"/>
<path d="M406.4 269.23L410.86 261.57L401.94 261.57Z"/>
</g>
</g>
<g stroke="#303030" fill="none">
<path stroke-width="1.2" d="M56.5 36.9V311.15"/>
<path stroke-width="1.35" d="M55.9 310.5H424"/>
</g>
<g stroke="#303030" stroke-width="1.2" fill="none">
<path d="M56.5 265H62.1M56.5 219.5H62.1M56.5 174H62.1M56.5 128.5H62.1M56.5 83H62.1M56.5 37.5H62.1M56.5 287.75H59.3M56.5 242.25H59.3M56.5 196.75H59.3M56.5 151.25H59.3M56.5 105.75H59.3M56.5 60.25H59.3M73.6 310.5V304.9M161.05 310.5V304.9M248.5 310.5V304.9M335.95 310.5V304.9M423.4 310.5V304.9M117.32 310.5V307.7M204.78 310.5V307.7M292.23 310.5V307.7M379.68 310.5V307.7"/>
</g>
<line x1="402.1" y1="7.5" x2="438.9" y2="7.5" stroke="#b4b4b4" stroke-width="1.2"/>
<g fill="#000">
<rect x="417.2" y="4.2" width="6.6" height="6.6"/>
</g>
<text x="443.9" y="14.1" font-size="16.6" text-anchor="start"  >1.658</text>
<line x1="402.1" y1="27.5" x2="438.9" y2="27.5" stroke="#b4b4b4" stroke-width="1.2"/>
<g fill="#000">
<circle cx="420.5" cy="27.5" r="3.73"/>
</g>
<text x="443.9" y="34.1" font-size="16.6" text-anchor="start"  >1.628</text>
<line x1="402.1" y1="47.8" x2="438.9" y2="47.8" stroke="#b4b4b4" stroke-width="1.2"/>
<g fill="#000">
<path d="M420.5 42.65L424.96 50.31L416.04 50.31Z"/>
</g>
<text x="443.9" y="54.4" font-size="16.6" text-anchor="start"  >1.598</text>
<line x1="402.1" y1="68.3" x2="438.9" y2="68.3" stroke="#b4b4b4" stroke-width="1.2"/>
<g fill="#000">
<path d="M420.5 64.09L421.65 67.16L424.93 67.31L422.36 69.35L423.24 72.51L420.5 70.7L417.76 72.51L418.64 69.35L416.07 67.31L419.35 67.16Z"/>
</g>
<text x="443.9" y="74.9" font-size="16.6" text-anchor="start"  >1.568</text>
<line x1="402.1" y1="88.7" x2="438.9" y2="88.7" stroke="#b4b4b4" stroke-width="1.2"/>
<g fill="none" stroke="#000" stroke-width="0.62">
<path d="M416.91 88.7H424.09M420.5 85.11V92.29"/>
</g>
<text x="443.9" y="95.3" font-size="16.6" text-anchor="start"  >1.538</text>
<line x1="402.1" y1="108.8" x2="438.9" y2="108.8" stroke="#b4b4b4" stroke-width="1.2"/>
<g fill="none" stroke="#000" stroke-width="1.1">
<path stroke-width="0.6" d="M416.23 108.8H424.77M420.5 104.53V113.07"/><path d="M416.91 105.21L424.09 112.39M416.91 112.39L424.09 105.21"/>
</g>
<text x="443.9" y="115.4" font-size="16.6" text-anchor="start"  >1.508</text>
<line x1="402.1" y1="129" x2="438.9" y2="129" stroke="#b4b4b4" stroke-width="1.2"/>
<g fill="#000">
<path d="M420.5 134.15L424.96 126.49L416.04 126.49Z"/>
</g>
<text x="443.5" y="136" font-size="16" text-anchor="start">水</text>
<text x="545.2" y="317.3" font-size="16.5" text-anchor="end"  >0</text>
<text x="545.2" y="286.66" font-size="16.5" text-anchor="end"  >5</text>
<text x="545.2" y="256.03" font-size="16.5" text-anchor="end"  >10</text>
<text x="545.2" y="225.39" font-size="16.5" text-anchor="end"  >15</text>
<text x="545.2" y="194.76" font-size="16.5" text-anchor="end"  >20</text>
<text x="545.2" y="164.12" font-size="16.5" text-anchor="end"  >25</text>
<text x="545.2" y="133.49" font-size="16.5" text-anchor="end"  >30</text>
<text x="545.2" y="102.86" font-size="16.5" text-anchor="end"  >35</text>
<text x="545.2" y="72.22" font-size="16.5" text-anchor="end"  >40</text>
<text x="545.2" y="41.59" font-size="16.5" text-anchor="end"  >45</text>
<text x="571.6" y="328" font-size="16.5" text-anchor="middle"  >400</text>
<text x="661" y="328" font-size="16.5" text-anchor="middle"  >500</text>
<text x="745.6" y="328" font-size="16.5" text-anchor="middle"  >600</text>
<text x="834.4" y="328" font-size="16.5" text-anchor="middle"  >700</text>
<text x="918.8" y="328" font-size="16.5" text-anchor="middle"  >800</text>
<clipPath id="cb"><rect x="552.65" y="0" width="1000" height="814"/></clipPath>
<g clip-path="url(#cb)">
<polyline points="552.8,297 559.87,290 566.94,284 574.01,278.4 581.08,272.6 588.15,266 595.22,259 602.29,248 609.36,237 616.43,225 623.5,213 630.57,197 637.64,186 644.71,180 651.78,171 658.85,165 665.92,161.4 672.99,160 680.06,158 687.13,157 694.2,156 701.27,154.4 708.34,153 715.41,151 722.48,150.4 729.55,150 736.62,149.8 743.69,149 750.76,147.6 757.83,146.4 764.9,145.6 771.97,144.4 779.04,143.6 786.11,142.4 793.18,141 800.25,140 807.32,139 814.39,138 821.46,136.6 828.53,135.6 835.6,134.6 842.67,134 849.74,133.6 856.81,132.4 863.88,132 870.95,131.4 878.02,130.6 885.09,130 892.16,129.6 899.23,129.4 906.3,129.4" fill="none" stroke="#2c2c2c" stroke-width="0.7"/>
<g fill="#000">
<rect x="549.5" y="293.7" width="6.6" height="6.6"/>
<rect x="556.57" y="286.7" width="6.6" height="6.6"/>
<rect x="563.64" y="280.7" width="6.6" height="6.6"/>
<rect x="570.71" y="275.1" width="6.6" height="6.6"/>
<rect x="577.78" y="269.3" width="6.6" height="6.6"/>
<rect x="584.85" y="262.7" width="6.6" height="6.6"/>
<rect x="591.92" y="255.7" width="6.6" height="6.6"/>
<rect x="598.99" y="244.7" width="6.6" height="6.6"/>
<rect x="606.06" y="233.7" width="6.6" height="6.6"/>
<rect x="613.13" y="221.7" width="6.6" height="6.6"/>
<rect x="620.2" y="209.7" width="6.6" height="6.6"/>
<rect x="627.27" y="193.7" width="6.6" height="6.6"/>
<rect x="634.34" y="182.7" width="6.6" height="6.6"/>
<rect x="641.41" y="176.7" width="6.6" height="6.6"/>
<rect x="648.48" y="167.7" width="6.6" height="6.6"/>
<rect x="655.55" y="161.7" width="6.6" height="6.6"/>
<rect x="662.62" y="158.1" width="6.6" height="6.6"/>
<rect x="669.69" y="156.7" width="6.6" height="6.6"/>
<rect x="676.76" y="154.7" width="6.6" height="6.6"/>
<rect x="683.83" y="153.7" width="6.6" height="6.6"/>
<rect x="690.9" y="152.7" width="6.6" height="6.6"/>
<rect x="697.97" y="151.1" width="6.6" height="6.6"/>
<rect x="705.04" y="149.7" width="6.6" height="6.6"/>
<rect x="712.11" y="147.7" width="6.6" height="6.6"/>
<rect x="719.18" y="147.1" width="6.6" height="6.6"/>
<rect x="726.25" y="146.7" width="6.6" height="6.6"/>
<rect x="733.32" y="146.5" width="6.6" height="6.6"/>
<rect x="740.39" y="145.7" width="6.6" height="6.6"/>
<rect x="747.46" y="144.3" width="6.6" height="6.6"/>
<rect x="754.53" y="143.1" width="6.6" height="6.6"/>
<rect x="761.6" y="142.3" width="6.6" height="6.6"/>
<rect x="768.67" y="141.1" width="6.6" height="6.6"/>
<rect x="775.74" y="140.3" width="6.6" height="6.6"/>
<rect x="782.81" y="139.1" width="6.6" height="6.6"/>
<rect x="789.88" y="137.7" width="6.6" height="6.6"/>
<rect x="796.95" y="136.7" width="6.6" height="6.6"/>
<rect x="804.02" y="135.7" width="6.6" height="6.6"/>
<rect x="811.09" y="134.7" width="6.6" height="6.6"/>
<rect x="818.16" y="133.3" width="6.6" height="6.6"/>
<rect x="825.23" y="132.3" width="6.6" height="6.6"/>
<rect x="832.3" y="131.3" width="6.6" height="6.6"/>
<rect x="839.37" y="130.7" width="6.6" height="6.6"/>
<rect x="846.44" y="130.3" width="6.6" height="6.6"/>
<rect x="853.51" y="129.1" width="6.6" height="6.6"/>
<rect x="860.58" y="128.7" width="6.6" height="6.6"/>
<rect x="867.65" y="128.1" width="6.6" height="6.6"/>
<rect x="874.72" y="127.3" width="6.6" height="6.6"/>
<rect x="881.79" y="126.7" width="6.6" height="6.6"/>
<rect x="888.86" y="126.3" width="6.6" height="6.6"/>
<rect x="895.93" y="126.1" width="6.6" height="6.6"/>
<rect x="903" y="126.1" width="6.6" height="6.6"/>
</g>
<polyline points="552.8,288 559.87,279.6 566.94,273.4 574.01,267 581.08,260 588.15,254 595.22,247 602.29,236.6 609.36,226 616.43,215.6 623.5,203 630.57,193 637.64,184 644.71,179 651.78,170.6 658.85,165.6 665.92,163 672.99,162 680.06,161 687.13,161 694.2,160.4 701.27,160 708.34,160 715.41,159.4 722.48,158.6 729.55,157 736.62,156.4 743.69,155.6 750.76,154.4 757.83,153.4 764.9,152.4 771.97,151.4 779.04,150.4 786.11,149.6 793.18,148.6 800.25,147.6 807.32,146.4 814.39,145.6 821.46,144.4 828.53,143.4 835.6,142.4 842.67,141.6 849.74,141 856.81,140.4 863.88,140 870.95,139.6 878.02,139.6 885.09,139.4 892.16,139.4 899.23,139.4 906.3,139" fill="none" stroke="#2c2c2c" stroke-width="0.7"/>
<g fill="#000">
<circle cx="552.8" cy="288" r="3.73"/>
<circle cx="559.87" cy="279.6" r="3.73"/>
<circle cx="566.94" cy="273.4" r="3.73"/>
<circle cx="574.01" cy="267" r="3.73"/>
<circle cx="581.08" cy="260" r="3.73"/>
<circle cx="588.15" cy="254" r="3.73"/>
<circle cx="595.22" cy="247" r="3.73"/>
<circle cx="602.29" cy="236.6" r="3.73"/>
<circle cx="609.36" cy="226" r="3.73"/>
<circle cx="616.43" cy="215.6" r="3.73"/>
<circle cx="623.5" cy="203" r="3.73"/>
<circle cx="630.57" cy="193" r="3.73"/>
<circle cx="637.64" cy="184" r="3.73"/>
<circle cx="644.71" cy="179" r="3.73"/>
<circle cx="651.78" cy="170.6" r="3.73"/>
<circle cx="658.85" cy="165.6" r="3.73"/>
<circle cx="665.92" cy="163" r="3.73"/>
<circle cx="672.99" cy="162" r="3.73"/>
<circle cx="680.06" cy="161" r="3.73"/>
<circle cx="687.13" cy="161" r="3.73"/>
<circle cx="694.2" cy="160.4" r="3.73"/>
<circle cx="701.27" cy="160" r="3.73"/>
<circle cx="708.34" cy="160" r="3.73"/>
<circle cx="715.41" cy="159.4" r="3.73"/>
<circle cx="722.48" cy="158.6" r="3.73"/>
<circle cx="729.55" cy="157" r="3.73"/>
<circle cx="736.62" cy="156.4" r="3.73"/>
<circle cx="743.69" cy="155.6" r="3.73"/>
<circle cx="750.76" cy="154.4" r="3.73"/>
<circle cx="757.83" cy="153.4" r="3.73"/>
<circle cx="764.9" cy="152.4" r="3.73"/>
<circle cx="771.97" cy="151.4" r="3.73"/>
<circle cx="779.04" cy="150.4" r="3.73"/>
<circle cx="786.11" cy="149.6" r="3.73"/>
<circle cx="793.18" cy="148.6" r="3.73"/>
<circle cx="800.25" cy="147.6" r="3.73"/>
<circle cx="807.32" cy="146.4" r="3.73"/>
<circle cx="814.39" cy="145.6" r="3.73"/>
<circle cx="821.46" cy="144.4" r="3.73"/>
<circle cx="828.53" cy="143.4" r="3.73"/>
<circle cx="835.6" cy="142.4" r="3.73"/>
<circle cx="842.67" cy="141.6" r="3.73"/>
<circle cx="849.74" cy="141" r="3.73"/>
<circle cx="856.81" cy="140.4" r="3.73"/>
<circle cx="863.88" cy="140" r="3.73"/>
<circle cx="870.95" cy="139.6" r="3.73"/>
<circle cx="878.02" cy="139.6" r="3.73"/>
<circle cx="885.09" cy="139.4" r="3.73"/>
<circle cx="892.16" cy="139.4" r="3.73"/>
<circle cx="899.23" cy="139.4" r="3.73"/>
<circle cx="906.3" cy="139" r="3.73"/>
</g>
<polyline points="552.8,277.82 559.87,273.72 566.94,267.32 574.01,263.02 581.08,258.32 588.15,253.72 595.22,247.72 602.29,238.32 609.36,230.32 616.43,224.92 623.5,213.72 630.57,207.32 637.64,201.92 644.71,197.32 651.78,192.32 658.85,188.42 665.92,186.42 672.99,184.62 680.06,183.92 687.13,183.22 694.2,182.52 701.27,181.82 708.34,180.82 715.41,179.72 722.48,179.02 729.55,177.92 736.62,175.92 743.69,174.72 750.76,173.62 757.83,172.42 764.9,170.62 771.97,169.42 779.04,168.02 786.11,167.32 793.18,165.92 800.25,164.92 807.32,163.32 814.39,162.32 821.46,160.92 828.53,159.32 835.6,157.72 842.67,156.32 849.74,154.92 856.81,152.72 863.88,151.92 870.95,151.92 878.02,151.92 885.09,157.72 892.16,162.32 899.23,162.32 906.3,162.32" fill="none" stroke="#2c2c2c" stroke-width="0.7"/>
<g fill="#000">
<path d="M552.8 272.67L557.26 280.33L548.34 280.33Z"/>
<path d="M559.87 268.57L564.33 276.23L555.41 276.23Z"/>
<path d="M566.94 262.17L571.4 269.83L562.48 269.83Z"/>
<path d="M574.01 257.87L578.47 265.53L569.55 265.53Z"/>
<path d="M581.08 253.17L585.54 260.83L576.62 260.83Z"/>
<path d="M588.15 248.57L592.61 256.23L583.69 256.23Z"/>
<path d="M595.22 242.57L599.68 250.23L590.76 250.23Z"/>
<path d="M602.29 233.17L606.75 240.83L597.83 240.83Z"/>
<path d="M609.36 225.17L613.82 232.83L604.9 232.83Z"/>
<path d="M616.43 219.77L620.89 227.43L611.97 227.43Z"/>
<path d="M623.5 208.57L627.96 216.23L619.04 216.23Z"/>
<path d="M630.57 202.17L635.03 209.83L626.11 209.83Z"/>
<path d="M637.64 196.77L642.1 204.43L633.18 204.43Z"/>
<path d="M644.71 192.17L649.17 199.83L640.25 199.83Z"/>
<path d="M651.78 187.17L656.24 194.83L647.32 194.83Z"/>
<path d="M658.85 183.27L663.31 190.93L654.39 190.93Z"/>
<path d="M665.92 181.27L670.38 188.93L661.46 188.93Z"/>
<path d="M672.99 179.47L677.45 187.13L668.53 187.13Z"/>
<path d="M680.06 178.77L684.52 186.43L675.6 186.43Z"/>
<path d="M687.13 178.07L691.59 185.73L682.67 185.73Z"/>
<path d="M694.2 177.37L698.66 185.03L689.74 185.03Z"/>
<path d="M701.27 176.67L705.73 184.33L696.81 184.33Z"/>
<path d="M708.34 175.67L712.8 183.33L703.88 183.33Z"/>
<path d="M715.41 174.57L719.87 182.23L710.95 182.23Z"/>
<path d="M722.48 173.87L726.94 181.53L718.02 181.53Z"/>
<path d="M729.55 172.77L734.01 180.43L725.09 180.43Z"/>
<path d="M736.62 170.77L741.08 178.43L732.16 178.43Z"/>
<path d="M743.69 169.57L748.15 177.23L739.23 177.23Z"/>
<path d="M750.76 168.47L755.22 176.13L746.3 176.13Z"/>
<path d="M757.83 167.27L762.29 174.93L753.37 174.93Z"/>
<path d="M764.9 165.47L769.36 173.13L760.44 173.13Z"/>
<path d="M771.97 164.27L776.43 171.93L767.51 171.93Z"/>
<path d="M779.04 162.87L783.5 170.53L774.58 170.53Z"/>
<path d="M786.11 162.17L790.57 169.83L781.65 169.83Z"/>
<path d="M793.18 160.77L797.64 168.43L788.72 168.43Z"/>
<path d="M800.25 159.77L804.71 167.43L795.79 167.43Z"/>
<path d="M807.32 158.17L811.78 165.83L802.86 165.83Z"/>
<path d="M814.39 157.17L818.85 164.83L809.93 164.83Z"/>
<path d="M821.46 155.77L825.92 163.43L817 163.43Z"/>
<path d="M828.53 154.17L832.99 161.83L824.07 161.83Z"/>
<path d="M835.6 152.57L840.06 160.23L831.14 160.23Z"/>
<path d="M842.67 151.17L847.13 158.83L838.21 158.83Z"/>
<path d="M849.74 149.77L854.2 157.43L845.28 157.43Z"/>
<path d="M856.81 147.57L861.27 155.23L852.35 155.23Z"/>
<path d="M863.88 146.77L868.34 154.43L859.42 154.43Z"/>
<path d="M870.95 146.77L875.41 154.43L866.49 154.43Z"/>
<path d="M878.02 146.77L882.48 154.43L873.56 154.43Z"/>
<path d="M885.09 152.57L889.55 160.23L880.63 160.23Z"/>
<path d="M892.16 157.17L896.62 164.83L887.7 164.83Z"/>
<path d="M899.23 157.17L903.69 164.83L894.77 164.83Z"/>
<path d="M906.3 157.17L910.76 164.83L901.84 164.83Z"/>
</g>
<polyline points="552.8,241.18 559.87,224.68 566.94,215.28 574.01,208.38 581.08,201.48 588.15,193.88 595.22,184.68 602.29,171.68 609.36,161.68 616.43,151.08 623.5,141.68 630.57,132.28 637.64,125.68 644.71,120.68 651.78,114.68 658.85,111.28 665.92,109.68 672.99,109.08 680.06,108.68 687.13,108.28 694.2,108.08 701.27,108.08 708.34,108.08 715.41,108.08 722.48,107.28 729.55,104.68 736.62,102.48 743.69,99.88 750.76,98.08 757.83,96.68 764.9,95.68 771.97,94.68 779.04,93.08 786.11,91.08 793.18,89.08 800.25,87.68 807.32,85.68 814.39,83.68 821.46,81.68 828.53,78.68 835.6,77.28 842.67,75.68 849.74,73.68 856.81,71.68 863.88,70.28 870.95,69.08 878.02,68.08 885.09,67.08 892.16,65.68 899.23,63.68 906.3,61.08" fill="none" stroke="#2c2c2c" stroke-width="0.7"/>
<g fill="#000">
<path d="M552.8 246.33L557.26 238.67L548.34 238.67Z"/>
<path d="M559.87 229.83L564.33 222.17L555.41 222.17Z"/>
<path d="M566.94 220.43L571.4 212.77L562.48 212.77Z"/>
<path d="M574.01 213.53L578.47 205.87L569.55 205.87Z"/>
<path d="M581.08 206.63L585.54 198.97L576.62 198.97Z"/>
<path d="M588.15 199.03L592.61 191.37L583.69 191.37Z"/>
<path d="M595.22 189.83L599.68 182.17L590.76 182.17Z"/>
<path d="M602.29 176.83L606.75 169.17L597.83 169.17Z"/>
<path d="M609.36 166.83L613.82 159.17L604.9 159.17Z"/>
<path d="M616.43 156.23L620.89 148.57L611.97 148.57Z"/>
<path d="M623.5 146.83L627.96 139.17L619.04 139.17Z"/>
<path d="M630.57 137.43L635.03 129.77L626.11 129.77Z"/>
<path d="M637.64 130.83L642.1 123.17L633.18 123.17Z"/>
<path d="M644.71 125.83L649.17 118.17L640.25 118.17Z"/>
<path d="M651.78 119.83L656.24 112.17L647.32 112.17Z"/>
<path d="M658.85 116.43L663.31 108.77L654.39 108.77Z"/>
<path d="M665.92 114.83L670.38 107.17L661.46 107.17Z"/>
<path d="M672.99 114.23L677.45 106.57L668.53 106.57Z"/>
<path d="M680.06 113.83L684.52 106.17L675.6 106.17Z"/>
<path d="M687.13 113.43L691.59 105.77L682.67 105.77Z"/>
<path d="M694.2 113.23L698.66 105.57L689.74 105.57Z"/>
<path d="M701.27 113.23L705.73 105.57L696.81 105.57Z"/>
<path d="M708.34 113.23L712.8 105.57L703.88 105.57Z"/>
<path d="M715.41 113.23L719.87 105.57L710.95 105.57Z"/>
<path d="M722.48 112.43L726.94 104.77L718.02 104.77Z"/>
<path d="M729.55 109.83L734.01 102.17L725.09 102.17Z"/>
<path d="M736.62 107.63L741.08 99.97L732.16 99.97Z"/>
<path d="M743.69 105.03L748.15 97.37L739.23 97.37Z"/>
<path d="M750.76 103.23L755.22 95.57L746.3 95.57Z"/>
<path d="M757.83 101.83L762.29 94.17L753.37 94.17Z"/>
<path d="M764.9 100.83L769.36 93.17L760.44 93.17Z"/>
<path d="M771.97 99.83L776.43 92.17L767.51 92.17Z"/>
<path d="M779.04 98.23L783.5 90.57L774.58 90.57Z"/>
<path d="M786.11 96.23L790.57 88.57L781.65 88.57Z"/>
<path d="M793.18 94.23L797.64 86.57L788.72 86.57Z"/>
<path d="M800.25 92.83L804.71 85.17L795.79 85.17Z"/>
<path d="M807.32 90.83L811.78 83.17L802.86 83.17Z"/>
<path d="M814.39 88.83L818.85 81.17L809.93 81.17Z"/>
<path d="M821.46 86.83L825.92 79.17L817 79.17Z"/>
<path d="M828.53 83.83L832.99 76.17L824.07 76.17Z"/>
<path d="M835.6 82.43L840.06 74.77L831.14 74.77Z"/>
<path d="M842.67 80.83L847.13 73.17L838.21 73.17Z"/>
<path d="M849.74 78.83L854.2 71.17L845.28 71.17Z"/>
<path d="M856.81 76.83L861.27 69.17L852.35 69.17Z"/>
<path d="M863.88 75.43L868.34 67.77L859.42 67.77Z"/>
<path d="M870.95 74.23L875.41 66.57L866.49 66.57Z"/>
<path d="M878.02 73.23L882.48 65.57L873.56 65.57Z"/>
<path d="M885.09 72.23L889.55 64.57L880.63 64.57Z"/>
<path d="M892.16 70.83L896.62 63.17L887.7 63.17Z"/>
<path d="M899.23 68.83L903.69 61.17L894.77 61.17Z"/>
<path d="M906.3 66.23L910.76 58.57L901.84 58.57Z"/>
</g>
<polyline points="552.8,211.4 559.87,204.6 566.94,198.4 574.01,195.2 581.08,190 588.15,184.5 595.22,180 602.29,172.4 609.36,164.4 616.43,158 623.5,152 630.57,148 637.64,145 644.71,142 651.78,136.6 658.85,133 665.92,132 672.99,130 680.06,128.6 687.13,127.4 694.2,125.4 701.27,124 708.34,123.4 715.41,123 722.48,122 729.55,120 736.62,116.3 743.69,113 750.76,110 757.83,108 764.9,106.4 771.97,105 779.04,104 786.11,103.4 793.18,100.4 800.25,98 807.32,96 814.39,94 821.46,92.4 828.53,90.6 835.6,89 842.67,87 849.74,85.4 856.81,83.6 863.88,82.4 870.95,81 878.02,79 885.09,78 892.16,76.4 899.23,74.4 906.3,72.4" fill="none" stroke="#2c2c2c" stroke-width="0.7"/>
<g fill="#000">
<path d="M552.8 206.84L557.36 211.4L552.8 215.96L548.24 211.4Z"/>
<path d="M559.87 200.04L564.43 204.6L559.87 209.16L555.31 204.6Z"/>
<path d="M566.94 193.84L571.5 198.4L566.94 202.96L562.38 198.4Z"/>
<path d="M574.01 190.64L578.57 195.2L574.01 199.76L569.45 195.2Z"/>
<path d="M581.08 185.44L585.64 190L581.08 194.56L576.52 190Z"/>
<path d="M588.15 179.94L592.71 184.5L588.15 189.06L583.59 184.5Z"/>
<path d="M595.22 175.44L599.78 180L595.22 184.56L590.66 180Z"/>
<path d="M602.29 167.84L606.85 172.4L602.29 176.96L597.73 172.4Z"/>
<path d="M609.36 159.84L613.92 164.4L609.36 168.96L604.8 164.4Z"/>
<path d="M616.43 153.44L620.99 158L616.43 162.56L611.87 158Z"/>
<path d="M623.5 147.44L628.06 152L623.5 156.56L618.94 152Z"/>
<path d="M630.57 143.44L635.13 148L630.57 152.56L626.01 148Z"/>
<path d="M637.64 140.44L642.2 145L637.64 149.56L633.08 145Z"/>
<path d="M644.71 137.44L649.27 142L644.71 146.56L640.15 142Z"/>
<path d="M651.78 132.04L656.34 136.6L651.78 141.16L647.22 136.6Z"/>
<path d="M658.85 128.44L663.41 133L658.85 137.56L654.29 133Z"/>
<path d="M665.92 127.44L670.48 132L665.92 136.56L661.36 132Z"/>
<path d="M672.99 125.44L677.55 130L672.99 134.56L668.43 130Z"/>
<path d="M680.06 124.04L684.62 128.6L680.06 133.16L675.5 128.6Z"/>
<path d="M687.13 122.84L691.69 127.4L687.13 131.96L682.57 127.4Z"/>
<path d="M694.2 120.84L698.76 125.4L694.2 129.96L689.64 125.4Z"/>
<path d="M701.27 119.44L705.83 124L701.27 128.56L696.71 124Z"/>
<path d="M708.34 118.84L712.9 123.4L708.34 127.96L703.78 123.4Z"/>
<path d="M715.41 118.44L719.97 123L715.41 127.56L710.85 123Z"/>
<path d="M722.48 117.44L727.04 122L722.48 126.56L717.92 122Z"/>
<path d="M729.55 115.44L734.11 120L729.55 124.56L724.99 120Z"/>
<path d="M736.62 111.74L741.18 116.3L736.62 120.86L732.06 116.3Z"/>
<path d="M743.69 108.44L748.25 113L743.69 117.56L739.13 113Z"/>
<path d="M750.76 105.44L755.32 110L750.76 114.56L746.2 110Z"/>
<path d="M757.83 103.44L762.39 108L757.83 112.56L753.27 108Z"/>
<path d="M764.9 101.84L769.46 106.4L764.9 110.96L760.34 106.4Z"/>
<path d="M771.97 100.44L776.53 105L771.97 109.56L767.41 105Z"/>
<path d="M779.04 99.44L783.6 104L779.04 108.56L774.48 104Z"/>
<path d="M786.11 98.84L790.67 103.4L786.11 107.96L781.55 103.4Z"/>
<path d="M793.18 95.84L797.74 100.4L793.18 104.96L788.62 100.4Z"/>
<path d="M800.25 93.44L804.81 98L800.25 102.56L795.69 98Z"/>
<path d="M807.32 91.44L811.88 96L807.32 100.56L802.76 96Z"/>
<path d="M814.39 89.44L818.95 94L814.39 98.56L809.83 94Z"/>
<path d="M821.46 87.84L826.02 92.4L821.46 96.96L816.9 92.4Z"/>
<path d="M828.53 86.04L833.09 90.6L828.53 95.16L823.97 90.6Z"/>
<path d="M835.6 84.44L840.16 89L835.6 93.56L831.04 89Z"/>
<path d="M842.67 82.44L847.23 87L842.67 91.56L838.11 87Z"/>
<path d="M849.74 80.84L854.3 85.4L849.74 89.96L845.18 85.4Z"/>
<path d="M856.81 79.04L861.37 83.6L856.81 88.16L852.25 83.6Z"/>
<path d="M863.88 77.84L868.44 82.4L863.88 86.96L859.32 82.4Z"/>
<path d="M870.95 76.44L875.51 81L870.95 85.56L866.39 81Z"/>
<path d="M878.02 74.44L882.58 79L878.02 83.56L873.46 79Z"/>
<path d="M885.09 73.44L889.65 78L885.09 82.56L880.53 78Z"/>
<path d="M892.16 71.84L896.72 76.4L892.16 80.96L887.6 76.4Z"/>
<path d="M899.23 69.84L903.79 74.4L899.23 78.96L894.67 74.4Z"/>
<path d="M906.3 67.84L910.86 72.4L906.3 76.96L901.74 72.4Z"/>
</g>
<polyline points="552.8,214.5 559.87,211.8 566.94,210 574.01,207.8 581.08,205.5 588.15,203.7 595.22,201.7 602.29,199.5 609.36,196.6 616.43,194.3 623.5,193.5 630.57,193 637.64,192.3 644.71,191.8 651.78,190.8 658.85,190 665.92,189.25 672.99,188.5 680.06,188.07 687.13,187.65 694.2,187.23 701.27,186.8 708.34,186.72 715.41,186.64 722.48,186.56 729.55,186.48 736.62,186.4 743.69,186 750.76,185.6 757.83,185.4 764.9,185 771.97,184.6 779.04,184.6 786.11,184 793.18,183.6 800.25,183 807.32,182.4 814.39,181.6 821.46,181 828.53,180.6 835.6,180 842.67,179.6 849.74,179.4 856.81,179 863.88,178.4 870.95,178 878.02,177.4 885.09,176.6 892.16,175.6 899.23,174.4 906.3,173.6" fill="none" stroke="#2c2c2c" stroke-width="0.7"/>
<g fill="#000">
<path d="M547.69 214.5L555.35 210.04L555.35 218.96Z"/>
<path d="M554.76 211.8L562.42 207.34L562.42 216.26Z"/>
<path d="M561.83 210L569.49 205.54L569.49 214.46Z"/>
<path d="M568.9 207.8L576.56 203.34L576.56 212.26Z"/>
<path d="M575.97 205.5L583.63 201.04L583.63 209.96Z"/>
<path d="M583.04 203.7L590.7 199.24L590.7 208.16Z"/>
<path d="M590.11 201.7L597.77 197.24L597.77 206.16Z"/>
<path d="M597.18 199.5L604.84 195.04L604.84 203.96Z"/>
<path d="M604.25 196.6L611.91 192.14L611.91 201.06Z"/>
<path d="M611.32 194.3L618.98 189.84L618.98 198.76Z"/>
<path d="M618.39 193.5L626.05 189.04L626.05 197.96Z"/>
<path d="M625.46 193L633.12 188.54L633.12 197.46Z"/>
<path d="M632.53 192.3L640.19 187.84L640.19 196.76Z"/>
<path d="M639.6 191.8L647.26 187.34L647.26 196.26Z"/>
<path d="M646.67 190.8L654.33 186.34L654.33 195.26Z"/>
<path d="M653.74 190L661.4 185.54L661.4 194.46Z"/>
<path d="M660.81 189.25L668.47 184.79L668.47 193.71Z"/>
<path d="M667.88 188.5L675.54 184.04L675.54 192.96Z"/>
<path d="M674.95 188.07L682.61 183.61L682.61 192.54Z"/>
<path d="M682.02 187.65L689.68 183.19L689.68 192.11Z"/>
<path d="M689.09 187.23L696.75 182.76L696.75 191.69Z"/>
<path d="M696.16 186.8L703.82 182.34L703.82 191.26Z"/>
<path d="M703.23 186.72L710.89 182.26L710.89 191.18Z"/>
<path d="M710.3 186.64L717.96 182.18L717.96 191.1Z"/>
<path d="M717.37 186.56L725.03 182.1L725.03 191.02Z"/>
<path d="M724.44 186.48L732.1 182.02L732.1 190.94Z"/>
<path d="M731.51 186.4L739.17 181.94L739.17 190.86Z"/>
<path d="M738.58 186L746.24 181.54L746.24 190.46Z"/>
<path d="M745.65 185.6L753.31 181.14L753.31 190.06Z"/>
<path d="M752.72 185.4L760.38 180.94L760.38 189.86Z"/>
<path d="M759.79 185L767.45 180.54L767.45 189.46Z"/>
<path d="M766.86 184.6L774.52 180.14L774.52 189.06Z"/>
<path d="M773.93 184.6L781.59 180.14L781.59 189.06Z"/>
<path d="M781 184L788.66 179.54L788.66 188.46Z"/>
<path d="M788.07 183.6L795.73 179.14L795.73 188.06Z"/>
<path d="M795.14 183L802.8 178.54L802.8 187.46Z"/>
<path d="M802.21 182.4L809.87 177.94L809.87 186.86Z"/>
<path d="M809.28 181.6L816.94 177.14L816.94 186.06Z"/>
<path d="M816.35 181L824.01 176.54L824.01 185.46Z"/>
<path d="M823.42 180.6L831.08 176.14L831.08 185.06Z"/>
<path d="M830.49 180L838.15 175.54L838.15 184.46Z"/>
<path d="M837.56 179.6L845.22 175.14L845.22 184.06Z"/>
<path d="M844.63 179.4L852.29 174.94L852.29 183.86Z"/>
<path d="M851.7 179L859.36 174.54L859.36 183.46Z"/>
<path d="M858.77 178.4L866.43 173.94L866.43 182.86Z"/>
<path d="M865.84 178L873.5 173.54L873.5 182.46Z"/>
<path d="M872.91 177.4L880.57 172.94L880.57 181.86Z"/>
<path d="M879.98 176.6L887.64 172.14L887.64 181.06Z"/>
<path d="M887.05 175.6L894.71 171.14L894.71 180.06Z"/>
<path d="M894.12 174.4L901.78 169.94L901.78 178.86Z"/>
<path d="M901.19 173.6L908.85 169.14L908.85 178.06Z"/>
</g>
<polyline points="552.8,198.8 559.87,191.8 566.94,191.7 574.01,191.6 581.08,191.4 588.15,191.2 595.22,191 602.29,190.83 609.36,190.67 616.43,190.5 623.5,190.33 630.57,190.17 637.64,190 644.71,189.7 651.78,189.4 658.85,189.1 665.92,188.8 672.99,188.5 680.06,188.07 687.13,187.65 694.2,187.23 701.27,186.8 708.34,186.84 715.41,186.88 722.48,186.92 729.55,186.96 736.62,187 743.69,187.12 750.76,187.25 757.83,187.38 764.9,187.5 771.97,187.66 779.04,187.82 786.11,187.98 793.18,188.14 800.25,188.3 807.32,188.44 814.39,188.58 821.46,188.72 828.53,188.86 835.6,189 842.67,189.14 849.74,189.28 856.81,189.42 863.88,189.56 870.95,189.7 878.02,189.76 885.09,189.82 892.16,189.88 899.23,189.94 906.3,190" fill="none" stroke="#2c2c2c" stroke-width="0.7"/>
<g fill="#000">
<path d="M557.91 198.8L550.25 194.34L550.25 203.26Z"/>
<path d="M564.98 191.8L557.32 187.34L557.32 196.26Z"/>
<path d="M572.05 191.7L564.39 187.24L564.39 196.16Z"/>
<path d="M579.12 191.6L571.46 187.14L571.46 196.06Z"/>
<path d="M586.19 191.4L578.53 186.94L578.53 195.86Z"/>
<path d="M593.26 191.2L585.6 186.74L585.6 195.66Z"/>
<path d="M600.33 191L592.67 186.54L592.67 195.46Z"/>
<path d="M607.4 190.83L599.74 186.37L599.74 195.3Z"/>
<path d="M614.47 190.67L606.81 186.2L606.81 195.13Z"/>
<path d="M621.54 190.5L613.88 186.04L613.88 194.96Z"/>
<path d="M628.61 190.33L620.95 185.87L620.95 194.8Z"/>
<path d="M635.68 190.17L628.02 185.7L628.02 194.63Z"/>
<path d="M642.75 190L635.09 185.54L635.09 194.46Z"/>
<path d="M649.82 189.7L642.16 185.24L642.16 194.16Z"/>
<path d="M656.89 189.4L649.23 184.94L649.23 193.86Z"/>
<path d="M663.96 189.1L656.3 184.64L656.3 193.56Z"/>
<path d="M671.03 188.8L663.37 184.34L663.37 193.26Z"/>
<path d="M678.1 188.5L670.44 184.04L670.44 192.96Z"/>
<path d="M685.17 188.07L677.51 183.61L677.51 192.54Z"/>
<path d="M692.24 187.65L684.58 183.19L684.58 192.11Z"/>
<path d="M699.31 187.23L691.65 182.76L691.65 191.69Z"/>
<path d="M706.38 186.8L698.72 182.34L698.72 191.26Z"/>
<path d="M713.45 186.84L705.79 182.38L705.79 191.3Z"/>
<path d="M720.52 186.88L712.86 182.42L712.86 191.34Z"/>
<path d="M727.59 186.92L719.93 182.46L719.93 191.38Z"/>
<path d="M734.66 186.96L727 182.5L727 191.42Z"/>
<path d="M741.73 187L734.07 182.54L734.07 191.46Z"/>
<path d="M748.8 187.12L741.14 182.66L741.14 191.59Z"/>
<path d="M755.87 187.25L748.21 182.79L748.21 191.71Z"/>
<path d="M762.94 187.38L755.28 182.91L755.28 191.84Z"/>
<path d="M770.01 187.5L762.35 183.04L762.35 191.96Z"/>
<path d="M777.08 187.66L769.42 183.2L769.42 192.12Z"/>
<path d="M784.15 187.82L776.49 183.36L776.49 192.28Z"/>
<path d="M791.22 187.98L783.56 183.52L783.56 192.44Z"/>
<path d="M798.29 188.14L790.63 183.68L790.63 192.6Z"/>
<path d="M805.36 188.3L797.7 183.84L797.7 192.76Z"/>
<path d="M812.43 188.44L804.77 183.98L804.77 192.9Z"/>
<path d="M819.5 188.58L811.84 184.12L811.84 193.04Z"/>
<path d="M826.57 188.72L818.91 184.26L818.91 193.18Z"/>
<path d="M833.64 188.86L825.98 184.4L825.98 193.32Z"/>
<path d="M840.71 189L833.05 184.54L833.05 193.46Z"/>
<path d="M847.78 189.14L840.12 184.68L840.12 193.6Z"/>
<path d="M854.85 189.28L847.19 184.82L847.19 193.74Z"/>
<path d="M861.92 189.42L854.26 184.96L854.26 193.88Z"/>
<path d="M868.99 189.56L861.33 185.1L861.33 194.02Z"/>
<path d="M876.06 189.7L868.4 185.24L868.4 194.16Z"/>
<path d="M883.13 189.76L875.47 185.3L875.47 194.22Z"/>
<path d="M890.2 189.82L882.54 185.36L882.54 194.28Z"/>
<path d="M897.27 189.88L889.61 185.42L889.61 194.34Z"/>
<path d="M904.34 189.94L896.68 185.48L896.68 194.4Z"/>
<path d="M911.41 190L903.75 185.54L903.75 194.46Z"/>
</g>
</g>
<g stroke="#303030" fill="none">
<path stroke-width="1.35" d="M553.4 33.89V310.85"/>
<path stroke-width="1.35" d="M552.73 310.2H924.5"/>
</g>
<g stroke="#303030" stroke-width="1.2" fill="none">
<path d="M553.4 279.56H559M553.4 248.93H559M553.4 218.29H559M553.4 187.66H559M553.4 157.03H559M553.4 126.39H559M553.4 95.75H559M553.4 65.12H559M553.4 34.49H559M553.4 294.88H556.2M553.4 264.25H556.2M553.4 233.61H556.2M553.4 202.98H556.2M553.4 172.34H556.2M553.4 141.71H556.2M553.4 111.07H556.2M553.4 80.44H556.2M553.4 49.8H556.2M570.5 310.2V304.6M658.85 310.2V304.6M747.2 310.2V304.6M835.55 310.2V304.6M923.9 310.2V304.6M614.67 310.2V307.4M703.02 310.2V307.4M791.38 310.2V307.4M879.72 310.2V307.4"/>
</g>
<line x1="902.4" y1="178.4" x2="940" y2="178.4" stroke="#b4b4b4" stroke-width="1.2"/>
<g fill="#000">
<rect x="918" y="175.1" width="6.6" height="6.6"/>
</g>
<text x="944.9" y="185.4" font-size="16.6" text-anchor="start"  >1.658</text>
<line x1="902.4" y1="199.2" x2="940" y2="199.2" stroke="#b4b4b4" stroke-width="1.2"/>
<g fill="#000">
<circle cx="921.3" cy="199.2" r="3.73"/>
</g>
<text x="944.9" y="206.2" font-size="16.6" text-anchor="start"  >1.628</text>
<line x1="902.4" y1="219.7" x2="940" y2="219.7" stroke="#b4b4b4" stroke-width="1.2"/>
<g fill="#000">
<path d="M921.3 214.55L925.76 222.21L916.84 222.21Z"/>
</g>
<text x="944.9" y="226.7" font-size="16.6" text-anchor="start"  >1.598</text>
<line x1="902.4" y1="240.2" x2="940" y2="240.2" stroke="#b4b4b4" stroke-width="1.2"/>
<g fill="#000">
<path d="M921.3 245.35L925.76 237.69L916.84 237.69Z"/>
</g>
<text x="944.9" y="247.2" font-size="16.6" text-anchor="start"  >1.568</text>
<line x1="902.4" y1="260.8" x2="940" y2="260.8" stroke="#b4b4b4" stroke-width="1.2"/>
<g fill="#000">
<path d="M921.3 256.24L925.86 260.8L921.3 265.36L916.74 260.8Z"/>
</g>
<text x="944.9" y="267.8" font-size="16.6" text-anchor="start"  >1.538</text>
<line x1="902.4" y1="281.3" x2="940" y2="281.3" stroke="#b4b4b4" stroke-width="1.2"/>
<g fill="#000">
<path d="M916.19 281.3L923.85 276.84L923.85 285.76Z"/>
</g>
<text x="944.9" y="288.3" font-size="16.6" text-anchor="start"  >1.508</text>
<line x1="902.4" y1="301.6" x2="940" y2="301.6" stroke="#b4b4b4" stroke-width="1.2"/>
<g fill="#000">
<path d="M926.41 301.6L918.75 297.14L918.75 306.06Z"/>
</g>
<text x="944.5" y="308.7" font-size="16" text-anchor="start">水</text>
<text x="47.6" y="715.9" font-size="16.5" text-anchor="end"  >0</text>
<text x="47.6" y="673.65" font-size="16.5" text-anchor="end"  >5</text>
<text x="47.6" y="631.4" font-size="16.5" text-anchor="end"  >10</text>
<text x="47.6" y="589.15" font-size="16.5" text-anchor="end"  >15</text>
<text x="47.6" y="546.9" font-size="16.5" text-anchor="end"  >20</text>
<text x="47.6" y="504.65" font-size="16.5" text-anchor="end"  >25</text>
<text x="47.6" y="462.4" font-size="16.5" text-anchor="end"  >30</text>
<text x="47.6" y="420.2" font-size="16.5" text-anchor="end"  >40</text>
<text x="73.7" y="745" font-size="16.5" text-anchor="middle"  >400</text>
<text x="167.6" y="745" font-size="16.5" text-anchor="middle"  >500</text>
<text x="265" y="745" font-size="16.5" text-anchor="middle"  >600</text>
<text x="361.2" y="745" font-size="16.5" text-anchor="middle"  >700</text>
<text x="455" y="745" font-size="16.5" text-anchor="middle"  >800</text>
<clipPath id="cc"><rect x="56.25" y="0" width="1000" height="814"/></clipPath>
<g clip-path="url(#cc)">
<polyline points="57.2,705 64.8,704 72.4,703.1 80,702.1 87.6,701.25 95.2,700.25 102.8,699 110.4,698 118,696.7 125.6,695.2 133.2,693.4 140.8,691.8 148.4,690.4 156,688.9 163.6,687.5 171.2,686.3 178.8,685.4 186.4,684.4 194,683.4 201.6,682 209.2,681 216.8,680 224.4,678.6 232,677 239.6,675.6 247.2,674.3 254.8,673.4 262.4,672.6 270,671.6 277.6,670.4 285.2,669 292.8,668 300.4,666.6 308,665.4 315.6,663.6 323.2,662.4 330.8,660.6 338.4,659.4 346,657.6 353.6,656 361.2,654.6 368.8,653 376.4,651.6 384,650 391.6,648 399.2,647 406.8,645.6 414.4,644.4 422,643 429.6,641.6 437.2,640.4" fill="none" stroke="#2c2c2c" stroke-width="0.7"/>
<g fill="#000">
<rect x="53.66" y="701.46" width="7.07" height="7.07"/>
<rect x="61.26" y="700.46" width="7.07" height="7.07"/>
<rect x="68.86" y="699.56" width="7.07" height="7.07"/>
<rect x="76.46" y="698.56" width="7.07" height="7.07"/>
<rect x="84.06" y="697.71" width="7.07" height="7.07"/>
<rect x="91.66" y="696.71" width="7.07" height="7.07"/>
<rect x="99.26" y="695.46" width="7.07" height="7.07"/>
<rect x="106.86" y="694.46" width="7.07" height="7.07"/>
<rect x="114.46" y="693.16" width="7.07" height="7.07"/>
<rect x="122.06" y="691.66" width="7.07" height="7.07"/>
<rect x="129.66" y="689.86" width="7.07" height="7.07"/>
<rect x="137.26" y="688.26" width="7.07" height="7.07"/>
<rect x="144.86" y="686.86" width="7.07" height="7.07"/>
<rect x="152.46" y="685.36" width="7.07" height="7.07"/>
<rect x="160.06" y="683.96" width="7.07" height="7.07"/>
<rect x="167.66" y="682.76" width="7.07" height="7.07"/>
<rect x="175.26" y="681.86" width="7.07" height="7.07"/>
<rect x="182.86" y="680.86" width="7.07" height="7.07"/>
<rect x="190.46" y="679.86" width="7.07" height="7.07"/>
<rect x="198.06" y="678.46" width="7.07" height="7.07"/>
<rect x="205.66" y="677.46" width="7.07" height="7.07"/>
<rect x="213.26" y="676.46" width="7.07" height="7.07"/>
<rect x="220.86" y="675.06" width="7.07" height="7.07"/>
<rect x="228.46" y="673.46" width="7.07" height="7.07"/>
<rect x="236.06" y="672.06" width="7.07" height="7.07"/>
<rect x="243.66" y="670.76" width="7.07" height="7.07"/>
<rect x="251.26" y="669.86" width="7.07" height="7.07"/>
<rect x="258.86" y="669.06" width="7.07" height="7.07"/>
<rect x="266.46" y="668.06" width="7.07" height="7.07"/>
<rect x="274.06" y="666.86" width="7.07" height="7.07"/>
<rect x="281.66" y="665.46" width="7.07" height="7.07"/>
<rect x="289.26" y="664.46" width="7.07" height="7.07"/>
<rect x="296.86" y="663.06" width="7.07" height="7.07"/>
<rect x="304.46" y="661.86" width="7.07" height="7.07"/>
<rect x="312.06" y="660.06" width="7.07" height="7.07"/>
<rect x="319.66" y="658.86" width="7.07" height="7.07"/>
<rect x="327.26" y="657.06" width="7.07" height="7.07"/>
<rect x="334.86" y="655.86" width="7.07" height="7.07"/>
<rect x="342.46" y="654.06" width="7.07" height="7.07"/>
<rect x="350.06" y="652.46" width="7.07" height="7.07"/>
<rect x="357.66" y="651.06" width="7.07" height="7.07"/>
<rect x="365.26" y="649.46" width="7.07" height="7.07"/>
<rect x="372.86" y="648.06" width="7.07" height="7.07"/>
<rect x="380.46" y="646.46" width="7.07" height="7.07"/>
<rect x="388.06" y="644.46" width="7.07" height="7.07"/>
<rect x="395.66" y="643.46" width="7.07" height="7.07"/>
<rect x="403.26" y="642.06" width="7.07" height="7.07"/>
<rect x="410.86" y="640.86" width="7.07" height="7.07"/>
<rect x="418.46" y="639.46" width="7.07" height="7.07"/>
<rect x="426.06" y="638.06" width="7.07" height="7.07"/>
<rect x="433.66" y="636.86" width="7.07" height="7.07"/>
</g>
<polyline points="57.2,702.5 64.8,701.25 72.4,699.75 80,698.5 87.6,696.9 95.2,695 102.8,692.5 110.4,689.4 118,686.9 125.6,684.4 133.2,681 140.8,677.5 148.4,674.1 156,670.7 163.6,667.2 171.2,664 178.8,660 186.4,657.4 194,653.6 201.6,651 209.2,648 216.8,644.4 224.4,640 232,635 239.6,631 247.2,629.4 254.8,630.4 262.4,631 270,630 277.6,628.4 285.2,625.6 292.8,623 300.4,619.4 308,617 315.6,614 323.2,611 330.8,608 338.4,605.4 346,602.4 353.6,599.4 361.2,597 368.8,594.4 376.4,592 384,589 391.6,586.4 399.2,584 406.8,581 414.4,579 422,577.6 429.6,575.6 437.2,573.6" fill="none" stroke="#2c2c2c" stroke-width="0.7"/>
<g fill="#000">
<circle cx="57.2" cy="702.5" r="4"/>
<circle cx="64.8" cy="701.25" r="4"/>
<circle cx="72.4" cy="699.75" r="4"/>
<circle cx="80" cy="698.5" r="4"/>
<circle cx="87.6" cy="696.9" r="4"/>
<circle cx="95.2" cy="695" r="4"/>
<circle cx="102.8" cy="692.5" r="4"/>
<circle cx="110.4" cy="689.4" r="4"/>
<circle cx="118" cy="686.9" r="4"/>
<circle cx="125.6" cy="684.4" r="4"/>
<circle cx="133.2" cy="681" r="4"/>
<circle cx="140.8" cy="677.5" r="4"/>
<circle cx="148.4" cy="674.1" r="4"/>
<circle cx="156" cy="670.7" r="4"/>
<circle cx="163.6" cy="667.2" r="4"/>
<circle cx="171.2" cy="664" r="4"/>
<circle cx="178.8" cy="660" r="4"/>
<circle cx="186.4" cy="657.4" r="4"/>
<circle cx="194" cy="653.6" r="4"/>
<circle cx="201.6" cy="651" r="4"/>
<circle cx="209.2" cy="648" r="4"/>
<circle cx="216.8" cy="644.4" r="4"/>
<circle cx="224.4" cy="640" r="4"/>
<circle cx="232" cy="635" r="4"/>
<circle cx="239.6" cy="631" r="4"/>
<circle cx="247.2" cy="629.4" r="4"/>
<circle cx="254.8" cy="630.4" r="4"/>
<circle cx="262.4" cy="631" r="4"/>
<circle cx="270" cy="630" r="4"/>
<circle cx="277.6" cy="628.4" r="4"/>
<circle cx="285.2" cy="625.6" r="4"/>
<circle cx="292.8" cy="623" r="4"/>
<circle cx="300.4" cy="619.4" r="4"/>
<circle cx="308" cy="617" r="4"/>
<circle cx="315.6" cy="614" r="4"/>
<circle cx="323.2" cy="611" r="4"/>
<circle cx="330.8" cy="608" r="4"/>
<circle cx="338.4" cy="605.4" r="4"/>
<circle cx="346" cy="602.4" r="4"/>
<circle cx="353.6" cy="599.4" r="4"/>
<circle cx="361.2" cy="597" r="4"/>
<circle cx="368.8" cy="594.4" r="4"/>
<circle cx="376.4" cy="592" r="4"/>
<circle cx="384" cy="589" r="4"/>
<circle cx="391.6" cy="586.4" r="4"/>
<circle cx="399.2" cy="584" r="4"/>
<circle cx="406.8" cy="581" r="4"/>
<circle cx="414.4" cy="579" r="4"/>
<circle cx="422" cy="577.6" r="4"/>
<circle cx="429.6" cy="575.6" r="4"/>
<circle cx="437.2" cy="573.6" r="4"/>
</g>
<polyline points="57.2,654.32 64.8,646.92 72.4,642.92 80,639.72 87.6,635.72 95.2,631.32 102.8,625.72 110.4,620.72 118,616.32 125.6,610.32 133.2,603.72 140.8,597.72 148.4,592.32 156,588.32 163.6,584.32 171.2,580.72 178.8,576.92 186.4,574.32 194,570.32 201.6,566.32 209.2,563.32 216.8,560.72 224.4,557.32 232,553.72 239.6,549.92 247.2,546.32 254.8,543.32 262.4,539.92 270,535.92 277.6,533.32 285.2,530.92 292.8,528.72 300.4,524.32 308,519.72 315.6,516.32 323.2,512.32 330.8,510.32 338.4,508.32 346,504.32 353.6,499.72 361.2,495.72 368.8,493.72 376.4,488.72 384,484.32 391.6,480.92 399.2,477.32 406.8,474.92 414.4,475.32 422,472.92 429.6,467.92 437.2,466.32" fill="none" stroke="#2c2c2c" stroke-width="0.7"/>
<g fill="#000">
<path d="M57.2 648.89L61.98 657.11L52.42 657.11Z"/>
<path d="M64.8 641.49L69.58 649.71L60.02 649.71Z"/>
<path d="M72.4 637.49L77.18 645.71L67.62 645.71Z"/>
<path d="M80 634.29L84.78 642.51L75.22 642.51Z"/>
<path d="M87.6 630.29L92.38 638.51L82.82 638.51Z"/>
<path d="M95.2 625.89L99.98 634.11L90.42 634.11Z"/>
<path d="M102.8 620.29L107.58 628.51L98.02 628.51Z"/>
<path d="M110.4 615.29L115.18 623.51L105.62 623.51Z"/>
<path d="M118 610.89L122.78 619.11L113.22 619.11Z"/>
<path d="M125.6 604.89L130.38 613.11L120.82 613.11Z"/>
<path d="M133.2 598.29L137.98 606.51L128.42 606.51Z"/>
<path d="M140.8 592.29L145.58 600.51L136.02 600.51Z"/>
<path d="M148.4 586.89L153.18 595.11L143.62 595.11Z"/>
<path d="M156 582.89L160.78 591.11L151.22 591.11Z"/>
<path d="M163.6 578.89L168.38 587.11L158.82 587.11Z"/>
<path d="M171.2 575.29L175.98 583.51L166.42 583.51Z"/>
<path d="M178.8 571.49L183.58 579.71L174.02 579.71Z"/>
<path d="M186.4 568.89L191.18 577.11L181.62 577.11Z"/>
<path d="M194 564.89L198.78 573.11L189.22 573.11Z"/>
<path d="M201.6 560.89L206.38 569.11L196.82 569.11Z"/>
<path d="M209.2 557.89L213.98 566.11L204.42 566.11Z"/>
<path d="M216.8 555.29L221.58 563.51L212.02 563.51Z"/>
<path d="M224.4 551.89L229.18 560.11L219.62 560.11Z"/>
<path d="M232 548.29L236.78 556.51L227.22 556.51Z"/>
<path d="M239.6 544.49L244.38 552.71L234.82 552.71Z"/>
<path d="M247.2 540.89L251.98 549.11L242.42 549.11Z"/>
<path d="M254.8 537.89L259.58 546.11L250.02 546.11Z"/>
<path d="M262.4 534.49L267.18 542.71L257.62 542.71Z"/>
<path d="M270 530.49L274.78 538.71L265.22 538.71Z"/>
<path d="M277.6 527.89L282.38 536.11L272.82 536.11Z"/>
<path d="M285.2 525.49L289.98 533.71L280.42 533.71Z"/>
<path d="M292.8 523.29L297.58 531.51L288.02 531.51Z"/>
<path d="M300.4 518.89L305.18 527.11L295.62 527.11Z"/>
<path d="M308 514.29L312.78 522.51L303.22 522.51Z"/>
<path d="M315.6 510.89L320.38 519.11L310.82 519.11Z"/>
<path d="M323.2 506.89L327.98 515.11L318.42 515.11Z"/>
<path d="M330.8 504.89L335.58 513.11L326.02 513.11Z"/>
<path d="M338.4 502.89L343.18 511.11L333.62 511.11Z"/>
<path d="M346 498.89L350.78 507.11L341.22 507.11Z"/>
<path d="M353.6 494.29L358.38 502.51L348.82 502.51Z"/>
<path d="M361.2 490.29L365.98 498.51L356.42 498.51Z"/>
<path d="M368.8 488.29L373.58 496.51L364.02 496.51Z"/>
<path d="M376.4 483.29L381.18 491.51L371.62 491.51Z"/>
<path d="M384 478.89L388.78 487.11L379.22 487.11Z"/>
<path d="M391.6 475.49L396.38 483.71L386.82 483.71Z"/>
<path d="M399.2 471.89L403.98 480.11L394.42 480.11Z"/>
<path d="M406.8 469.49L411.58 477.71L402.02 477.71Z"/>
<path d="M414.4 469.89L419.18 478.11L409.62 478.11Z"/>
<path d="M422 467.49L426.78 475.71L417.22 475.71Z"/>
<path d="M429.6 462.49L434.38 470.71L424.82 470.71Z"/>
<path d="M437.2 460.89L441.98 469.11L432.42 469.11Z"/>
</g>
<polyline points="57.2,698.75 64.8,694.4 72.4,691.9 80,690.6 87.6,689.4 95.2,687.75 102.8,685.6 110.4,683.5 118,680.6 125.6,678.1 133.2,675.6 140.8,673.1 148.4,670.6 156,668.3 163.6,666 171.2,664 178.8,662.4 186.4,660 194,658.4 201.6,656.6 209.2,654.4 216.8,653 224.4,652 232,651 239.6,648.6 247.2,645.5 254.8,640.4 262.4,635.4 270,631.4 277.6,628.6 285.2,626.5 292.8,624.2 300.4,620.9 308,618.5 315.6,615.5 323.2,612.5 330.8,609.5 338.4,606.9 346,603.9 353.6,600.9 361.2,598.5 368.8,595.9 376.4,593 384,588 391.6,584.4 399.2,581.6 406.8,578.4 414.4,575 422,572.4 429.6,568 437.2,564" fill="none" stroke="#2c2c2c" stroke-width="0.7"/>
<g fill="#000">
<path d="M57.2 694.23L58.43 697.53L61.95 697.68L59.19 699.87L60.13 703.27L57.2 701.32L54.27 703.27L55.21 699.87L52.45 697.68L55.97 697.53Z"/>
<path d="M64.8 689.88L66.03 693.18L69.55 693.33L66.79 695.52L67.73 698.92L64.8 696.97L61.87 698.92L62.81 695.52L60.05 693.33L63.57 693.18Z"/>
<path d="M72.4 687.38L73.63 690.68L77.15 690.83L74.39 693.02L75.33 696.42L72.4 694.47L69.47 696.42L70.41 693.02L67.65 690.83L71.17 690.68Z"/>
<path d="M80 686.08L81.23 689.38L84.75 689.53L81.99 691.72L82.93 695.12L80 693.17L77.07 695.12L78.01 691.72L75.25 689.53L78.77 689.38Z"/>
<path d="M87.6 684.88L88.83 688.18L92.35 688.33L89.59 690.52L90.53 693.92L87.6 691.97L84.67 693.92L85.61 690.52L82.85 688.33L86.37 688.18Z"/>
<path d="M95.2 683.23L96.43 686.53L99.95 686.68L97.19 688.87L98.13 692.27L95.2 690.32L92.27 692.27L93.21 688.87L90.45 686.68L93.97 686.53Z"/>
<path d="M102.8 681.08L104.03 684.38L107.55 684.53L104.79 686.72L105.73 690.12L102.8 688.17L99.87 690.12L100.81 686.72L98.05 684.53L101.57 684.38Z"/>
<path d="M110.4 678.98L111.63 682.28L115.15 682.43L112.39 684.62L113.33 688.02L110.4 686.07L107.47 688.02L108.41 684.62L105.65 682.43L109.17 682.28Z"/>
<path d="M118 676.08L119.23 679.38L122.75 679.53L119.99 681.72L120.93 685.12L118 683.17L115.07 685.12L116.01 681.72L113.25 679.53L116.77 679.38Z"/>
<path d="M125.6 673.58L126.83 676.88L130.35 677.03L127.59 679.22L128.53 682.62L125.6 680.67L122.67 682.62L123.61 679.22L120.85 677.03L124.37 676.88Z"/>
<path d="M133.2 671.08L134.43 674.38L137.95 674.53L135.19 676.72L136.13 680.12L133.2 678.17L130.27 680.12L131.21 676.72L128.45 674.53L131.97 674.38Z"/>
<path d="M140.8 668.58L142.03 671.88L145.55 672.03L142.79 674.22L143.73 677.62L140.8 675.67L137.87 677.62L138.81 674.22L136.05 672.03L139.57 671.88Z"/>
<path d="M148.4 666.08L149.63 669.38L153.15 669.53L150.39 671.72L151.33 675.12L148.4 673.17L145.47 675.12L146.41 671.72L143.65 669.53L147.17 669.38Z"/>
<path d="M156 663.78L157.23 667.08L160.75 667.23L157.99 669.42L158.93 672.82L156 670.87L153.07 672.82L154.01 669.42L151.25 667.23L154.77 667.08Z"/>
<path d="M163.6 661.48L164.83 664.78L168.35 664.93L165.59 667.12L166.53 670.52L163.6 668.57L160.67 670.52L161.61 667.12L158.85 664.93L162.37 664.78Z"/>
<path d="M171.2 659.48L172.43 662.78L175.95 662.93L173.19 665.12L174.13 668.52L171.2 666.57L168.27 668.52L169.21 665.12L166.45 662.93L169.97 662.78Z"/>
<path d="M178.8 657.88L180.03 661.18L183.55 661.33L180.79 663.52L181.73 666.92L178.8 664.97L175.87 666.92L176.81 663.52L174.05 661.33L177.57 661.18Z"/>
<path d="M186.4 655.48L187.63 658.78L191.15 658.93L188.39 661.12L189.33 664.52L186.4 662.57L183.47 664.52L184.41 661.12L181.65 658.93L185.17 658.78Z"/>
<path d="M194 653.88L195.23 657.18L198.75 657.33L195.99 659.52L196.93 662.92L194 660.97L191.07 662.92L192.01 659.52L189.25 657.33L192.77 657.18Z"/>
<path d="M201.6 652.08L202.83 655.38L206.35 655.53L203.59 657.72L204.53 661.12L201.6 659.17L198.67 661.12L199.61 657.72L196.85 655.53L200.37 655.38Z"/>
<path d="M209.2 649.88L210.43 653.18L213.95 653.33L211.19 655.52L212.13 658.92L209.2 656.97L206.27 658.92L207.21 655.52L204.45 653.33L207.97 653.18Z"/>
<path d="M216.8 648.48L218.03 651.78L221.55 651.93L218.79 654.12L219.73 657.52L216.8 655.57L213.87 657.52L214.81 654.12L212.05 651.93L215.57 651.78Z"/>
<path d="M224.4 647.48L225.63 650.78L229.15 650.93L226.39 653.12L227.33 656.52L224.4 654.57L221.47 656.52L222.41 653.12L219.65 650.93L223.17 650.78Z"/>
<path d="M232 646.48L233.23 649.78L236.75 649.93L233.99 652.12L234.93 655.52L232 653.57L229.07 655.52L230.01 652.12L227.25 649.93L230.77 649.78Z"/>
<path d="M239.6 644.08L240.83 647.38L244.35 647.53L241.59 649.72L242.53 653.12L239.6 651.17L236.67 653.12L237.61 649.72L234.85 647.53L238.37 647.38Z"/>
<path d="M247.2 640.98L248.43 644.28L251.95 644.43L249.19 646.62L250.13 650.02L247.2 648.07L244.27 650.02L245.21 646.62L242.45 644.43L245.97 644.28Z"/>
<path d="M254.8 635.88L256.03 639.18L259.55 639.33L256.79 641.52L257.73 644.92L254.8 642.97L251.87 644.92L252.81 641.52L250.05 639.33L253.57 639.18Z"/>
<path d="M262.4 630.88L263.63 634.18L267.15 634.33L264.39 636.52L265.33 639.92L262.4 637.97L259.47 639.92L260.41 636.52L257.65 634.33L261.17 634.18Z"/>
<path d="M270 626.88L271.23 630.18L274.75 630.33L271.99 632.52L272.93 635.92L270 633.97L267.07 635.92L268.01 632.52L265.25 630.33L268.77 630.18Z"/>
<path d="M277.6 624.08L278.83 627.38L282.35 627.53L279.59 629.72L280.53 633.12L277.6 631.17L274.67 633.12L275.61 629.72L272.85 627.53L276.37 627.38Z"/>
<path d="M285.2 621.98L286.43 625.28L289.95 625.43L287.19 627.62L288.13 631.02L285.2 629.07L282.27 631.02L283.21 627.62L280.45 625.43L283.97 625.28Z"/>
<path d="M292.8 619.68L294.03 622.98L297.55 623.13L294.79 625.32L295.73 628.72L292.8 626.77L289.87 628.72L290.81 625.32L288.05 623.13L291.57 622.98Z"/>
<path d="M300.4 616.38L301.63 619.68L305.15 619.83L302.39 622.02L303.33 625.42L300.4 623.47L297.47 625.42L298.41 622.02L295.65 619.83L299.17 619.68Z"/>
<path d="M308 613.98L309.23 617.28L312.75 617.43L309.99 619.62L310.93 623.02L308 621.07L305.07 623.02L306.01 619.62L303.25 617.43L306.77 617.28Z"/>
<path d="M315.6 610.98L316.83 614.28L320.35 614.43L317.59 616.62L318.53 620.02L315.6 618.07L312.67 620.02L313.61 616.62L310.85 614.43L314.37 614.28Z"/>
<path d="M323.2 607.98L324.43 611.28L327.95 611.43L325.19 613.62L326.13 617.02L323.2 615.07L320.27 617.02L321.21 613.62L318.45 611.43L321.97 611.28Z"/>
<path d="M330.8 604.98L332.03 608.28L335.55 608.43L332.79 610.62L333.73 614.02L330.8 612.07L327.87 614.02L328.81 610.62L326.05 608.43L329.57 608.28Z"/>
<path d="M338.4 602.38L339.63 605.68L343.15 605.83L340.39 608.02L341.33 611.42L338.4 609.47L335.47 611.42L336.41 608.02L333.65 605.83L337.17 605.68Z"/>
<path d="M346 599.38L347.23 602.68L350.75 602.83L347.99 605.02L348.93 608.42L346 606.47L343.07 608.42L344.01 605.02L341.25 602.83L344.77 602.68Z"/>
<path d="M353.6 596.38L354.83 599.68L358.35 599.83L355.59 602.02L356.53 605.42L353.6 603.47L350.67 605.42L351.61 602.02L348.85 599.83L352.37 599.68Z"/>
<path d="M361.2 593.98L362.43 597.28L365.95 597.43L363.19 599.62L364.13 603.02L361.2 601.07L358.27 603.02L359.21 599.62L356.45 597.43L359.97 597.28Z"/>
<path d="M368.8 591.38L370.03 594.68L373.55 594.83L370.79 597.02L371.73 600.42L368.8 598.47L365.87 600.42L366.81 597.02L364.05 594.83L367.57 594.68Z"/>
<path d="M376.4 588.48L377.63 591.78L381.15 591.93L378.39 594.12L379.33 597.52L376.4 595.57L373.47 597.52L374.41 594.12L371.65 591.93L375.17 591.78Z"/>
<path d="M384 583.48L385.23 586.78L388.75 586.93L385.99 589.12L386.93 592.52L384 590.57L381.07 592.52L382.01 589.12L379.25 586.93L382.77 586.78Z"/>
<path d="M391.6 579.88L392.83 583.18L396.35 583.33L393.59 585.52L394.53 588.92L391.6 586.97L388.67 588.92L389.61 585.52L386.85 583.33L390.37 583.18Z"/>
<path d="M399.2 577.08L400.43 580.38L403.95 580.53L401.19 582.72L402.13 586.12L399.2 584.17L396.27 586.12L397.21 582.72L394.45 580.53L397.97 580.38Z"/>
<path d="M406.8 573.88L408.03 577.18L411.55 577.33L408.79 579.52L409.73 582.92L406.8 580.97L403.87 582.92L404.81 579.52L402.05 577.33L405.57 577.18Z"/>
<path d="M414.4 570.48L415.63 573.78L419.15 573.93L416.39 576.12L417.33 579.52L414.4 577.57L411.47 579.52L412.41 576.12L409.65 573.93L413.17 573.78Z"/>
<path d="M422 567.88L423.23 571.18L426.75 571.33L423.99 573.52L424.93 576.92L422 574.97L419.07 576.92L420.01 573.52L417.25 571.33L420.77 571.18Z"/>
<path d="M429.6 563.48L430.83 566.78L434.35 566.93L431.59 569.12L432.53 572.52L429.6 570.57L426.67 572.52L427.61 569.12L424.85 566.93L428.37 566.78Z"/>
<path d="M437.2 559.48L438.43 562.78L441.95 562.93L439.19 565.12L440.13 568.52L437.2 566.57L434.27 568.52L435.21 565.12L432.45 562.93L435.97 562.78Z"/>
</g>
<polyline points="57.2,703 64.8,702.66 72.4,702.32 80,701.98 87.6,701.64 95.2,701.3 102.8,701.04 110.4,700.78 118,700.52 125.6,700.26 133.2,700 140.8,699.5 148.4,699 156,698.5 163.6,698 171.2,697.5 178.8,696.7 186.4,695.9 194,695.1 201.6,694.3 209.2,693.5 216.8,692.7 224.4,691.9 232,691.1 239.6,690.3 247.2,689.5 254.8,688 262.4,687.1 270,686.2 277.6,685.3 285.2,684.4 292.8,683.52 300.4,682.64 308,681.76 315.6,680.88 323.2,680 330.8,679.32 338.4,678.64 346,677.96 353.6,677.28 361.2,676.6 368.8,675.87 376.4,675.13 384,674.4 391.6,673.2 399.2,672 406.8,671.12 414.4,670.24 422,669.36 429.6,668.48 437.2,667.6" fill="none" stroke="#2c2c2c" stroke-width="0.7"/>
<g fill="none" stroke="#000" stroke-width="0.62">
<path d="M53.35 703H61.05M57.2 699.15V706.85"/>
<path d="M60.95 702.66H68.65M64.8 698.81V706.51"/>
<path d="M68.55 702.32H76.25M72.4 698.47V706.17"/>
<path d="M76.15 701.98H83.85M80 698.13V705.83"/>
<path d="M83.75 701.64H91.45M87.6 697.79V705.49"/>
<path d="M91.35 701.3H99.05M95.2 697.45V705.15"/>
<path d="M98.95 701.04H106.65M102.8 697.19V704.89"/>
<path d="M106.55 700.78H114.25M110.4 696.93V704.63"/>
<path d="M114.15 700.52H121.85M118 696.67V704.37"/>
<path d="M121.75 700.26H129.45M125.6 696.41V704.11"/>
<path d="M129.35 700H137.05M133.2 696.15V703.85"/>
<path d="M136.95 699.5H144.65M140.8 695.65V703.35"/>
<path d="M144.55 699H152.25M148.4 695.15V702.85"/>
<path d="M152.15 698.5H159.85M156 694.65V702.35"/>
<path d="M159.75 698H167.45M163.6 694.15V701.85"/>
<path d="M167.35 697.5H175.05M171.2 693.65V701.35"/>
<path d="M174.95 696.7H182.65M178.8 692.85V700.55"/>
<path d="M182.55 695.9H190.25M186.4 692.05V699.75"/>
<path d="M190.15 695.1H197.85M194 691.25V698.95"/>
<path d="M197.75 694.3H205.45M201.6 690.45V698.15"/>
<path d="M205.35 693.5H213.05M209.2 689.65V697.35"/>
<path d="M212.95 692.7H220.65M216.8 688.85V696.55"/>
<path d="M220.55 691.9H228.25M224.4 688.05V695.75"/>
<path d="M228.15 691.1H235.85M232 687.25V694.95"/>
<path d="M235.75 690.3H243.45M239.6 686.45V694.15"/>
<path d="M243.35 689.5H251.05M247.2 685.65V693.35"/>
<path d="M250.95 688H258.65M254.8 684.15V691.85"/>
<path d="M258.55 687.1H266.25M262.4 683.25V690.95"/>
<path d="M266.15 686.2H273.85M270 682.35V690.05"/>
<path d="M273.75 685.3H281.45M277.6 681.45V689.15"/>
<path d="M281.35 684.4H289.05M285.2 680.55V688.25"/>
<path d="M288.95 683.52H296.65M292.8 679.67V687.37"/>
<path d="M296.55 682.64H304.25M300.4 678.79V686.49"/>
<path d="M304.15 681.76H311.85M308 677.91V685.61"/>
<path d="M311.75 680.88H319.45M315.6 677.03V684.73"/>
<path d="M319.35 680H327.05M323.2 676.15V683.85"/>
<path d="M326.95 679.32H334.65M330.8 675.47V683.17"/>
<path d="M334.55 678.64H342.25M338.4 674.79V682.49"/>
<path d="M342.15 677.96H349.85M346 674.11V681.81"/>
<path d="M349.75 677.28H357.45M353.6 673.43V681.13"/>
<path d="M357.35 676.6H365.05M361.2 672.75V680.45"/>
<path d="M364.95 675.87H372.65M368.8 672.02V679.71"/>
<path d="M372.55 675.13H380.25M376.4 671.29V678.98"/>
<path d="M380.15 674.4H387.85M384 670.55V678.25"/>
<path d="M387.75 673.2H395.45M391.6 669.35V677.05"/>
<path d="M395.35 672H403.05M399.2 668.15V675.85"/>
<path d="M402.95 671.12H410.65M406.8 667.27V674.97"/>
<path d="M410.55 670.24H418.25M414.4 666.39V674.09"/>
<path d="M418.15 669.36H425.85M422 665.51V673.21"/>
<path d="M425.75 668.48H433.45M429.6 664.63V672.33"/>
<path d="M433.35 667.6H441.05M437.2 663.75V671.45"/>
</g>
<polyline points="57.2,704.8 64.8,704.6 72.4,704.4 80,704.2 87.6,704 95.2,703.8 102.8,703.6 110.4,703.4 118,703.2 125.6,703 133.2,702.8 140.8,702.68 148.4,702.56 156,702.44 163.6,702.32 171.2,702.2 178.8,701.92 186.4,701.64 194,701.36 201.6,701.08 209.2,700.8 216.8,700.52 224.4,700.24 232,699.96 239.6,699.68 247.2,699.4 254.8,699.2 262.4,699 270,698.8 277.6,698.6 285.2,698.4 292.8,698.24 300.4,698.08 308,697.92 315.6,697.76 323.2,697.6 330.8,697.36 338.4,697.12 346,696.88 353.6,696.64 361.2,696.4 368.8,696.12 376.4,695.84 384,695.56 391.6,695.28 399.2,695 406.8,694.72 414.4,694.44 422,694.16 429.6,693.88 437.2,693.6" fill="none" stroke="#2c2c2c" stroke-width="0.7"/>
<g fill="none" stroke="#000" stroke-width="1.1">
<path stroke-width="0.6" d="M52.62 704.8H61.78M57.2 700.22V709.38"/><path d="M53.35 700.95L61.05 708.65M53.35 708.65L61.05 700.95"/>
<path stroke-width="0.6" d="M60.22 704.6H69.38M64.8 700.02V709.18"/><path d="M60.95 700.75L68.65 708.45M60.95 708.45L68.65 700.75"/>
<path stroke-width="0.6" d="M67.82 704.4H76.98M72.4 699.82V708.98"/><path d="M68.55 700.55L76.25 708.25M68.55 708.25L76.25 700.55"/>
<path stroke-width="0.6" d="M75.42 704.2H84.58M80 699.62V708.78"/><path d="M76.15 700.35L83.85 708.05M76.15 708.05L83.85 700.35"/>
<path stroke-width="0.6" d="M83.02 704H92.18M87.6 699.42V708.58"/><path d="M83.75 700.15L91.45 707.85M83.75 707.85L91.45 700.15"/>
<path stroke-width="0.6" d="M90.62 703.8H99.78M95.2 699.22V708.38"/><path d="M91.35 699.95L99.05 707.65M91.35 707.65L99.05 699.95"/>
<path stroke-width="0.6" d="M98.22 703.6H107.38M102.8 699.02V708.18"/><path d="M98.95 699.75L106.65 707.45M98.95 707.45L106.65 699.75"/>
<path stroke-width="0.6" d="M105.82 703.4H114.98M110.4 698.82V707.98"/><path d="M106.55 699.55L114.25 707.25M106.55 707.25L114.25 699.55"/>
<path stroke-width="0.6" d="M113.42 703.2H122.58M118 698.62V707.78"/><path d="M114.15 699.35L121.85 707.05M114.15 707.05L121.85 699.35"/>
<path stroke-width="0.6" d="M121.02 703H130.18M125.6 698.42V707.58"/><path d="M121.75 699.15L129.45 706.85M121.75 706.85L129.45 699.15"/>
<path stroke-width="0.6" d="M128.62 702.8H137.78M133.2 698.22V707.38"/><path d="M129.35 698.95L137.05 706.65M129.35 706.65L137.05 698.95"/>
<path stroke-width="0.6" d="M136.22 702.68H145.38M140.8 698.1V707.26"/><path d="M136.95 698.83L144.65 706.53M136.95 706.53L144.65 698.83"/>
<path stroke-width="0.6" d="M143.82 702.56H152.98M148.4 697.98V707.14"/><path d="M144.55 698.71L152.25 706.41M144.55 706.41L152.25 698.71"/>
<path stroke-width="0.6" d="M151.42 702.44H160.58M156 697.86V707.02"/><path d="M152.15 698.59L159.85 706.29M152.15 706.29L159.85 698.59"/>
<path stroke-width="0.6" d="M159.02 702.32H168.18M163.6 697.74V706.9"/><path d="M159.75 698.47L167.45 706.17M159.75 706.17L167.45 698.47"/>
<path stroke-width="0.6" d="M166.62 702.2H175.78M171.2 697.62V706.78"/><path d="M167.35 698.35L175.05 706.05M167.35 706.05L175.05 698.35"/>
<path stroke-width="0.6" d="M174.22 701.92H183.38M178.8 697.34V706.5"/><path d="M174.95 698.07L182.65 705.77M174.95 705.77L182.65 698.07"/>
<path stroke-width="0.6" d="M181.82 701.64H190.98M186.4 697.06V706.22"/><path d="M182.55 697.79L190.25 705.49M182.55 705.49L190.25 697.79"/>
<path stroke-width="0.6" d="M189.42 701.36H198.58M194 696.78V705.94"/><path d="M190.15 697.51L197.85 705.21M190.15 705.21L197.85 697.51"/>
<path stroke-width="0.6" d="M197.02 701.08H206.18M201.6 696.5V705.66"/><path d="M197.75 697.23L205.45 704.93M197.75 704.93L205.45 697.23"/>
<path stroke-width="0.6" d="M204.62 700.8H213.78M209.2 696.22V705.38"/><path d="M205.35 696.95L213.05 704.65M205.35 704.65L213.05 696.95"/>
<path stroke-width="0.6" d="M212.22 700.52H221.38M216.8 695.94V705.1"/><path d="M212.95 696.67L220.65 704.37M212.95 704.37L220.65 696.67"/>
<path stroke-width="0.6" d="M219.82 700.24H228.98M224.4 695.66V704.82"/><path d="M220.55 696.39L228.25 704.09M220.55 704.09L228.25 696.39"/>
<path stroke-width="0.6" d="M227.42 699.96H236.58M232 695.38V704.54"/><path d="M228.15 696.11L235.85 703.81M228.15 703.81L235.85 696.11"/>
<path stroke-width="0.6" d="M235.02 699.68H244.18M239.6 695.1V704.26"/><path d="M235.75 695.83L243.45 703.53M235.75 703.53L243.45 695.83"/>
<path stroke-width="0.6" d="M242.62 699.4H251.78M247.2 694.82V703.98"/><path d="M243.35 695.55L251.05 703.25M243.35 703.25L251.05 695.55"/>
<path stroke-width="0.6" d="M250.22 699.2H259.38M254.8 694.62V703.78"/><path d="M250.95 695.35L258.65 703.05M250.95 703.05L258.65 695.35"/>
<path stroke-width="0.6" d="M257.82 699H266.98M262.4 694.42V703.58"/><path d="M258.55 695.15L266.25 702.85M258.55 702.85L266.25 695.15"/>
<path stroke-width="0.6" d="M265.42 698.8H274.58M270 694.22V703.38"/><path d="M266.15 694.95L273.85 702.65M266.15 702.65L273.85 694.95"/>
<path stroke-width="0.6" d="M273.02 698.6H282.18M277.6 694.02V703.18"/><path d="M273.75 694.75L281.45 702.45M273.75 702.45L281.45 694.75"/>
<path stroke-width="0.6" d="M280.62 698.4H289.78M285.2 693.82V702.98"/><path d="M281.35 694.55L289.05 702.25M281.35 702.25L289.05 694.55"/>
<path stroke-width="0.6" d="M288.22 698.24H297.38M292.8 693.66V702.82"/><path d="M288.95 694.39L296.65 702.09M288.95 702.09L296.65 694.39"/>
<path stroke-width="0.6" d="M295.82 698.08H304.98M300.4 693.5V702.66"/><path d="M296.55 694.23L304.25 701.93M296.55 701.93L304.25 694.23"/>
<path stroke-width="0.6" d="M303.42 697.92H312.58M308 693.34V702.5"/><path d="M304.15 694.07L311.85 701.77M304.15 701.77L311.85 694.07"/>
<path stroke-width="0.6" d="M311.02 697.76H320.18M315.6 693.18V702.34"/><path d="M311.75 693.91L319.45 701.61M311.75 701.61L319.45 693.91"/>
<path stroke-width="0.6" d="M318.62 697.6H327.78M323.2 693.02V702.18"/><path d="M319.35 693.75L327.05 701.45M319.35 701.45L327.05 693.75"/>
<path stroke-width="0.6" d="M326.22 697.36H335.38M330.8 692.78V701.94"/><path d="M326.95 693.51L334.65 701.21M326.95 701.21L334.65 693.51"/>
<path stroke-width="0.6" d="M333.82 697.12H342.98M338.4 692.54V701.7"/><path d="M334.55 693.27L342.25 700.97M334.55 700.97L342.25 693.27"/>
<path stroke-width="0.6" d="M341.42 696.88H350.58M346 692.3V701.46"/><path d="M342.15 693.03L349.85 700.73M342.15 700.73L349.85 693.03"/>
<path stroke-width="0.6" d="M349.02 696.64H358.18M353.6 692.06V701.22"/><path d="M349.75 692.79L357.45 700.49M349.75 700.49L357.45 692.79"/>
<path stroke-width="0.6" d="M356.62 696.4H365.78M361.2 691.82V700.98"/><path d="M357.35 692.55L365.05 700.25M357.35 700.25L365.05 692.55"/>
<path stroke-width="0.6" d="M364.22 696.12H373.38M368.8 691.54V700.7"/><path d="M364.95 692.27L372.65 699.97M364.95 699.97L372.65 692.27"/>
<path stroke-width="0.6" d="M371.82 695.84H380.98M376.4 691.26V700.42"/><path d="M372.55 691.99L380.25 699.69M372.55 699.69L380.25 691.99"/>
<path stroke-width="0.6" d="M379.42 695.56H388.58M384 690.98V700.14"/><path d="M380.15 691.71L387.85 699.41M380.15 699.41L387.85 691.71"/>
<path stroke-width="0.6" d="M387.02 695.28H396.18M391.6 690.7V699.86"/><path d="M387.75 691.43L395.45 699.13M387.75 699.13L395.45 691.43"/>
<path stroke-width="0.6" d="M394.62 695H403.78M399.2 690.42V699.58"/><path d="M395.35 691.15L403.05 698.85M395.35 698.85L403.05 691.15"/>
<path stroke-width="0.6" d="M402.22 694.72H411.38M406.8 690.14V699.3"/><path d="M402.95 690.87L410.65 698.57M402.95 698.57L410.65 690.87"/>
<path stroke-width="0.6" d="M409.82 694.44H418.98M414.4 689.86V699.02"/><path d="M410.55 690.59L418.25 698.29M410.55 698.29L418.25 690.59"/>
<path stroke-width="0.6" d="M417.42 694.16H426.58M422 689.58V698.74"/><path d="M418.15 690.31L425.85 698.01M418.15 698.01L425.85 690.31"/>
<path stroke-width="0.6" d="M425.02 693.88H434.18M429.6 689.3V698.46"/><path d="M425.75 690.03L433.45 697.73M425.75 697.73L433.45 690.03"/>
<path stroke-width="0.6" d="M432.62 693.6H441.78M437.2 689.02V698.18"/><path d="M433.35 689.75L441.05 697.45M433.35 697.45L441.05 689.75"/>
</g>
</g>
<g stroke="#303030" fill="none">
<path stroke-width="1.5" d="M57 412.6V730.15"/>
<path stroke-width="1.35" d="M56.25 729.5H456.7"/>
</g>
<g stroke="#303030" stroke-width="1.2" fill="none">
<path d="M57 707.75H62.6M57 665.5H62.6M57 623.25H62.6M57 581H62.6M57 538.75H62.6M57 496.5H62.6M57 454.25H62.6M57 413.2H62.6M57 686.62H59.8M57 644.38H59.8M57 602.12H59.8M57 559.88H59.8M57 517.62H59.8M57 475.38H59.8M57 433.12H59.8M76.1 729.5V723.9M171.1 729.5V723.9M266.1 729.5V723.9M361.1 729.5V723.9M456.1 729.5V723.9M123.6 729.5V726.7M218.6 729.5V726.7M313.6 729.5V726.7M408.6 729.5V726.7"/>
</g>
<line x1="143" y1="423.7" x2="182.5" y2="423.7" stroke="#b4b4b4" stroke-width="1.2"/>
<g fill="#000">
<rect x="159.36" y="420.16" width="7.07" height="7.07"/>
</g>
<text x="188.1" y="431.2" font-size="16.6" text-anchor="start"  >1.594</text>
<line x1="143" y1="445.8" x2="182.5" y2="445.8" stroke="#b4b4b4" stroke-width="1.2"/>
<g fill="#000">
<circle cx="162.9" cy="445.8" r="4"/>
</g>
<text x="188.1" y="453.3" font-size="16.6" text-anchor="start"  >1.568</text>
<line x1="143" y1="467.8" x2="182.5" y2="467.8" stroke="#b4b4b4" stroke-width="1.2"/>
<g fill="#000">
<path d="M162.9 462.38L167.68 470.59L158.12 470.59Z"/>
</g>
<text x="188.1" y="475.3" font-size="16.6" text-anchor="start"  >1.542</text>
<line x1="143" y1="489.9" x2="182.5" y2="489.9" stroke="#b4b4b4" stroke-width="1.2"/>
<g fill="#000">
<path d="M162.9 485.38L164.13 488.68L167.65 488.83L164.89 491.02L165.83 494.42L162.9 492.47L159.97 494.42L160.91 491.02L158.15 488.83L161.67 488.68Z"/>
</g>
<text x="188.1" y="497.4" font-size="16.6" text-anchor="start"  >1.515</text>
<line x1="143" y1="511.8" x2="182.5" y2="511.8" stroke="#b4b4b4" stroke-width="1.2"/>
<g fill="none" stroke="#000" stroke-width="0.62">
<path d="M159.05 511.8H166.75M162.9 507.95V515.65"/>
</g>
<text x="188.1" y="519.3" font-size="16.6" text-anchor="start"  >1.489</text>
<line x1="143" y1="534" x2="182.5" y2="534" stroke="#b4b4b4" stroke-width="1.2"/>
<g fill="none" stroke="#000" stroke-width="1.1">
<path stroke-width="0.6" d="M158.32 534H167.48M162.9 529.42V538.58"/><path d="M159.05 530.15L166.75 537.85M159.05 537.85L166.75 530.15"/>
</g>
<text x="187.7" y="541.6" font-size="16" text-anchor="start">水</text>
<text x="548.2" y="717.1" font-size="16.5" text-anchor="end"  >0</text>
<text x="548.2" y="679.29" font-size="16.5" text-anchor="end"  >5</text>
<text x="546.2" y="641.48" font-size="16.5" text-anchor="end"  >10</text>
<text x="546.2" y="603.66" font-size="16.5" text-anchor="end"  >15</text>
<text x="546.2" y="565.85" font-size="16.5" text-anchor="end"  >20</text>
<text x="546.2" y="528.04" font-size="16.5" text-anchor="end"  >25</text>
<text x="546.2" y="490.23" font-size="16.5" text-anchor="end"  >30</text>
<text x="546.2" y="452.41" font-size="16.5" text-anchor="end"  >35</text>
<text x="544.6" y="413.4" font-size="16.5" text-anchor="end"  >40</text>
<text x="576.7" y="744.3" font-size="16.5" text-anchor="middle"  >400</text>
<text x="674.4" y="744.3" font-size="16.5" text-anchor="middle"  >500</text>
<text x="767.7" y="744.3" font-size="16.5" text-anchor="middle"  >600</text>
<text x="865.5" y="744.3" font-size="16.5" text-anchor="middle"  >700</text>
<text x="953.5" y="744.3" font-size="16.5" text-anchor="middle"  >800</text>
<clipPath id="cd"><rect x="556.15" y="0" width="1000" height="814"/></clipPath>
<g clip-path="url(#cd)">
<polyline points="557.2,704 564.9,701.6 572.6,700 580.3,698.6 588,697.4 595.7,696 603.4,694.4 611.1,692.4 618.8,691 626.5,689 634.2,686.4 641.9,684 649.6,681.6 657.3,679.6 665,678 672.7,675.6 680.4,674.6 688.1,673.6 695.8,672.6 703.5,671.4 711.2,670 718.9,668.6 726.6,667 734.3,664 742,662.6 749.7,661.4 757.4,660.6 765.1,660 772.8,659 780.5,658 788.2,656.4 795.9,654.6 803.6,652.4 811.3,651 819,648.6 826.7,647 834.4,645 842.1,643 849.8,641 857.5,638.6 865.2,636.4 872.9,634.4 880.6,632 888.3,630 896,628 903.7,626 911.4,624 919.1,621.6 926.8,619.6 934.5,617 942.2,614.6" fill="none" stroke="#2c2c2c" stroke-width="0.7"/>
<g fill="#000">
<rect x="553.66" y="700.46" width="7.07" height="7.07"/>
<rect x="561.36" y="698.06" width="7.07" height="7.07"/>
<rect x="569.06" y="696.46" width="7.07" height="7.07"/>
<rect x="576.76" y="695.06" width="7.07" height="7.07"/>
<rect x="584.46" y="693.86" width="7.07" height="7.07"/>
<rect x="592.16" y="692.46" width="7.07" height="7.07"/>
<rect x="599.86" y="690.86" width="7.07" height="7.07"/>
<rect x="607.56" y="688.86" width="7.07" height="7.07"/>
<rect x="615.26" y="687.46" width="7.07" height="7.07"/>
<rect x="622.96" y="685.46" width="7.07" height="7.07"/>
<rect x="630.66" y="682.86" width="7.07" height="7.07"/>
<rect x="638.36" y="680.46" width="7.07" height="7.07"/>
<rect x="646.06" y="678.06" width="7.07" height="7.07"/>
<rect x="653.76" y="676.06" width="7.07" height="7.07"/>
<rect x="661.46" y="674.46" width="7.07" height="7.07"/>
<rect x="669.16" y="672.06" width="7.07" height="7.07"/>
<rect x="676.86" y="671.06" width="7.07" height="7.07"/>
<rect x="684.56" y="670.06" width="7.07" height="7.07"/>
<rect x="692.26" y="669.06" width="7.07" height="7.07"/>
<rect x="699.96" y="667.86" width="7.07" height="7.07"/>
<rect x="707.66" y="666.46" width="7.07" height="7.07"/>
<rect x="715.36" y="665.06" width="7.07" height="7.07"/>
<rect x="723.06" y="663.46" width="7.07" height="7.07"/>
<rect x="730.76" y="660.46" width="7.07" height="7.07"/>
<rect x="738.46" y="659.06" width="7.07" height="7.07"/>
<rect x="746.16" y="657.86" width="7.07" height="7.07"/>
<rect x="753.86" y="657.06" width="7.07" height="7.07"/>
<rect x="761.56" y="656.46" width="7.07" height="7.07"/>
<rect x="769.26" y="655.46" width="7.07" height="7.07"/>
<rect x="776.96" y="654.46" width="7.07" height="7.07"/>
<rect x="784.66" y="652.86" width="7.07" height="7.07"/>
<rect x="792.36" y="651.06" width="7.07" height="7.07"/>
<rect x="800.06" y="648.86" width="7.07" height="7.07"/>
<rect x="807.76" y="647.46" width="7.07" height="7.07"/>
<rect x="815.46" y="645.06" width="7.07" height="7.07"/>
<rect x="823.16" y="643.46" width="7.07" height="7.07"/>
<rect x="830.86" y="641.46" width="7.07" height="7.07"/>
<rect x="838.56" y="639.46" width="7.07" height="7.07"/>
<rect x="846.26" y="637.46" width="7.07" height="7.07"/>
<rect x="853.96" y="635.06" width="7.07" height="7.07"/>
<rect x="861.66" y="632.86" width="7.07" height="7.07"/>
<rect x="869.36" y="630.86" width="7.07" height="7.07"/>
<rect x="877.06" y="628.46" width="7.07" height="7.07"/>
<rect x="884.76" y="626.46" width="7.07" height="7.07"/>
<rect x="892.46" y="624.46" width="7.07" height="7.07"/>
<rect x="900.16" y="622.46" width="7.07" height="7.07"/>
<rect x="907.86" y="620.46" width="7.07" height="7.07"/>
<rect x="915.56" y="618.06" width="7.07" height="7.07"/>
<rect x="923.26" y="616.06" width="7.07" height="7.07"/>
<rect x="930.96" y="613.46" width="7.07" height="7.07"/>
<rect x="938.66" y="611.06" width="7.07" height="7.07"/>
</g>
<polyline points="557.2,683 564.9,678.4 572.6,674.4 580.3,671 588,668 595.7,664.6 603.4,661 611.1,656.4 618.8,651.6 626.5,647 634.2,642 641.9,638 649.6,634.4 657.3,631.6 665,628.4 672.7,625.4 680.4,623.4 688.1,621.4 695.8,619.6 703.5,618 711.2,616 718.9,614 726.6,612 734.3,610 742,608.4 749.7,607.2 757.4,605.4 765.1,603 772.8,600.6 780.5,598 788.2,595.4 795.9,592.6 803.6,590.4 811.3,588 819,585.6 826.7,583 834.4,580 842.1,576.6 849.8,573.4 857.5,570 865.2,567 872.9,564 880.6,561.3 888.3,558 896,555 903.7,552 911.4,549 919.1,546 926.8,543.4 934.5,539.6 942.2,536" fill="none" stroke="#2c2c2c" stroke-width="0.7"/>
<g fill="#000">
<circle cx="557.2" cy="683" r="4"/>
<circle cx="564.9" cy="678.4" r="4"/>
<circle cx="572.6" cy="674.4" r="4"/>
<circle cx="580.3" cy="671" r="4"/>
<circle cx="588" cy="668" r="4"/>
<circle cx="595.7" cy="664.6" r="4"/>
<circle cx="603.4" cy="661" r="4"/>
<circle cx="611.1" cy="656.4" r="4"/>
<circle cx="618.8" cy="651.6" r="4"/>
<circle cx="626.5" cy="647" r="4"/>
<circle cx="634.2" cy="642" r="4"/>
<circle cx="641.9" cy="638" r="4"/>
<circle cx="649.6" cy="634.4" r="4"/>
<circle cx="657.3" cy="631.6" r="4"/>
<circle cx="665" cy="628.4" r="4"/>
<circle cx="672.7" cy="625.4" r="4"/>
<circle cx="680.4" cy="623.4" r="4"/>
<circle cx="688.1" cy="621.4" r="4"/>
<circle cx="695.8" cy="619.6" r="4"/>
<circle cx="703.5" cy="618" r="4"/>
<circle cx="711.2" cy="616" r="4"/>
<circle cx="718.9" cy="614" r="4"/>
<circle cx="726.6" cy="612" r="4"/>
<circle cx="734.3" cy="610" r="4"/>
<circle cx="742" cy="608.4" r="4"/>
<circle cx="749.7" cy="607.2" r="4"/>
<circle cx="757.4" cy="605.4" r="4"/>
<circle cx="765.1" cy="603" r="4"/>
<circle cx="772.8" cy="600.6" r="4"/>
<circle cx="780.5" cy="598" r="4"/>
<circle cx="788.2" cy="595.4" r="4"/>
<circle cx="795.9" cy="592.6" r="4"/>
<circle cx="803.6" cy="590.4" r="4"/>
<circle cx="811.3" cy="588" r="4"/>
<circle cx="819" cy="585.6" r="4"/>
<circle cx="826.7" cy="583" r="4"/>
<circle cx="834.4" cy="580" r="4"/>
<circle cx="842.1" cy="576.6" r="4"/>
<circle cx="849.8" cy="573.4" r="4"/>
<circle cx="857.5" cy="570" r="4"/>
<circle cx="865.2" cy="567" r="4"/>
<circle cx="872.9" cy="564" r="4"/>
<circle cx="880.6" cy="561.3" r="4"/>
<circle cx="888.3" cy="558" r="4"/>
<circle cx="896" cy="555" r="4"/>
<circle cx="903.7" cy="552" r="4"/>
<circle cx="911.4" cy="549" r="4"/>
<circle cx="919.1" cy="546" r="4"/>
<circle cx="926.8" cy="543.4" r="4"/>
<circle cx="934.5" cy="539.6" r="4"/>
<circle cx="942.2" cy="536" r="4"/>
</g>
<polyline points="557.2,653.72 564.9,648.72 572.6,644.72 580.3,640.92 588,636.72 595.7,632.32 603.4,627.32 611.1,621.32 618.8,615.32 626.5,609.72 634.2,603.92 641.9,598.72 649.6,594.92 657.3,591.32 665,586.32 672.7,581.72 680.4,577.92 688.1,574.92 695.8,571.72 703.5,568.72 711.2,565.32 718.9,562.72 726.6,560.72 734.3,558.72 742,556.32 749.7,553.32 757.4,549.32 765.1,544.32 772.8,538.92 780.5,533.32 788.2,528.72 795.9,524.32 803.6,520.92 811.3,517.32 819,513.32 826.7,509.32 834.4,505.72 842.1,501.32 849.8,497.32 857.5,493.72 865.2,489.32 872.9,485.32 880.6,481.32 888.3,477.32 896,473.32 903.7,469.72 911.4,466.72 919.1,462.92 926.8,459.32 934.5,454.92 942.2,450.32" fill="none" stroke="#2c2c2c" stroke-width="0.7"/>
<g fill="#000">
<path d="M557.2 648.29L561.98 656.51L552.42 656.51Z"/>
<path d="M564.9 643.29L569.68 651.51L560.12 651.51Z"/>
<path d="M572.6 639.29L577.38 647.51L567.82 647.51Z"/>
<path d="M580.3 635.49L585.08 643.71L575.52 643.71Z"/>
<path d="M588 631.29L592.78 639.51L583.22 639.51Z"/>
<path d="M595.7 626.89L600.48 635.11L590.92 635.11Z"/>
<path d="M603.4 621.89L608.18 630.11L598.62 630.11Z"/>
<path d="M611.1 615.89L615.88 624.11L606.32 624.11Z"/>
<path d="M618.8 609.89L623.58 618.11L614.02 618.11Z"/>
<path d="M626.5 604.29L631.28 612.51L621.72 612.51Z"/>
<path d="M634.2 598.49L638.98 606.71L629.42 606.71Z"/>
<path d="M641.9 593.29L646.68 601.51L637.12 601.51Z"/>
<path d="M649.6 589.49L654.38 597.71L644.82 597.71Z"/>
<path d="M657.3 585.89L662.08 594.11L652.52 594.11Z"/>
<path d="M665 580.89L669.78 589.11L660.22 589.11Z"/>
<path d="M672.7 576.29L677.48 584.51L667.92 584.51Z"/>
<path d="M680.4 572.49L685.18 580.71L675.62 580.71Z"/>
<path d="M688.1 569.49L692.88 577.71L683.32 577.71Z"/>
<path d="M695.8 566.29L700.58 574.51L691.02 574.51Z"/>
<path d="M703.5 563.29L708.28 571.51L698.72 571.51Z"/>
<path d="M711.2 559.89L715.98 568.11L706.42 568.11Z"/>
<path d="M718.9 557.29L723.68 565.51L714.12 565.51Z"/>
<path d="M726.6 555.29L731.38 563.51L721.82 563.51Z"/>
<path d="M734.3 553.29L739.08 561.51L729.52 561.51Z"/>
<path d="M742 550.89L746.78 559.11L737.22 559.11Z"/>
<path d="M749.7 547.89L754.48 556.11L744.92 556.11Z"/>
<path d="M757.4 543.89L762.18 552.11L752.62 552.11Z"/>
<path d="M765.1 538.89L769.88 547.11L760.32 547.11Z"/>
<path d="M772.8 533.49L777.58 541.71L768.02 541.71Z"/>
<path d="M780.5 527.89L785.28 536.11L775.72 536.11Z"/>
<path d="M788.2 523.29L792.98 531.51L783.42 531.51Z"/>
<path d="M795.9 518.89L800.68 527.11L791.12 527.11Z"/>
<path d="M803.6 515.49L808.38 523.71L798.82 523.71Z"/>
<path d="M811.3 511.89L816.08 520.11L806.52 520.11Z"/>
<path d="M819 507.89L823.78 516.11L814.22 516.11Z"/>
<path d="M826.7 503.89L831.48 512.11L821.92 512.11Z"/>
<path d="M834.4 500.29L839.18 508.51L829.62 508.51Z"/>
<path d="M842.1 495.89L846.88 504.11L837.32 504.11Z"/>
<path d="M849.8 491.89L854.58 500.11L845.02 500.11Z"/>
<path d="M857.5 488.29L862.28 496.51L852.72 496.51Z"/>
<path d="M865.2 483.89L869.98 492.11L860.42 492.11Z"/>
<path d="M872.9 479.89L877.68 488.11L868.12 488.11Z"/>
<path d="M880.6 475.89L885.38 484.11L875.82 484.11Z"/>
<path d="M888.3 471.89L893.08 480.11L883.52 480.11Z"/>
<path d="M896 467.89L900.78 476.11L891.22 476.11Z"/>
<path d="M903.7 464.29L908.48 472.51L898.92 472.51Z"/>
<path d="M911.4 461.29L916.18 469.51L906.62 469.51Z"/>
<path d="M919.1 457.49L923.88 465.71L914.32 465.71Z"/>
<path d="M926.8 453.89L931.58 462.11L922.02 462.11Z"/>
<path d="M934.5 449.49L939.28 457.71L929.72 457.71Z"/>
<path d="M942.2 444.89L946.98 453.11L937.42 453.11Z"/>
</g>
<polyline points="557.2,667.4 564.9,663 572.6,660 580.3,658.4 588,656 595.7,654 603.4,651.4 611.1,647.4 618.8,644 626.5,640.4 634.2,637 641.9,635 649.6,633 657.3,630.4 665,627 672.7,624 680.4,621.6 688.1,619.6 695.8,617 703.5,614.6 711.2,612 718.9,609 726.6,606.4 734.3,603.6 742,601 749.7,597.6 757.4,594.6 765.1,591.3 772.8,588 780.5,584.7 788.2,581.5 795.9,578.4 803.6,574.8 811.3,571.8 819,568.4 826.7,564.7 834.4,561.4 842.1,558 849.8,554.6 857.5,551 865.2,547 872.9,543.6 880.6,539.6 888.3,535 896,531.6 903.7,528 911.4,524 919.1,521 926.8,517 934.5,512 942.2,507.6" fill="none" stroke="#2c2c2c" stroke-width="0.7"/>
<g fill="#000">
<path d="M557.2 662.88L558.43 666.18L561.95 666.33L559.19 668.52L560.13 671.92L557.2 669.97L554.27 671.92L555.21 668.52L552.45 666.33L555.97 666.18Z"/>
<path d="M564.9 658.48L566.13 661.78L569.65 661.93L566.89 664.12L567.83 667.52L564.9 665.57L561.97 667.52L562.91 664.12L560.15 661.93L563.67 661.78Z"/>
<path d="M572.6 655.48L573.83 658.78L577.35 658.93L574.59 661.12L575.53 664.52L572.6 662.57L569.67 664.52L570.61 661.12L567.85 658.93L571.37 658.78Z"/>
<path d="M580.3 653.88L581.53 657.18L585.05 657.33L582.29 659.52L583.23 662.92L580.3 660.97L577.37 662.92L578.31 659.52L575.55 657.33L579.07 657.18Z"/>
<path d="M588 651.48L589.23 654.78L592.75 654.93L589.99 657.12L590.93 660.52L588 658.57L585.07 660.52L586.01 657.12L583.25 654.93L586.77 654.78Z"/>
<path d="M595.7 649.48L596.93 652.78L600.45 652.93L597.69 655.12L598.63 658.52L595.7 656.57L592.77 658.52L593.71 655.12L590.95 652.93L594.47 652.78Z"/>
<path d="M603.4 646.88L604.63 650.18L608.15 650.33L605.39 652.52L606.33 655.92L603.4 653.97L600.47 655.92L601.41 652.52L598.65 650.33L602.17 650.18Z"/>
<path d="M611.1 642.88L612.33 646.18L615.85 646.33L613.09 648.52L614.03 651.92L611.1 649.97L608.17 651.92L609.11 648.52L606.35 646.33L609.87 646.18Z"/>
<path d="M618.8 639.48L620.03 642.78L623.55 642.93L620.79 645.12L621.73 648.52L618.8 646.57L615.87 648.52L616.81 645.12L614.05 642.93L617.57 642.78Z"/>
<path d="M626.5 635.88L627.73 639.18L631.25 639.33L628.49 641.52L629.43 644.92L626.5 642.97L623.57 644.92L624.51 641.52L621.75 639.33L625.27 639.18Z"/>
<path d="M634.2 632.48L635.43 635.78L638.95 635.93L636.19 638.12L637.13 641.52L634.2 639.57L631.27 641.52L632.21 638.12L629.45 635.93L632.97 635.78Z"/>
<path d="M641.9 630.48L643.13 633.78L646.65 633.93L643.89 636.12L644.83 639.52L641.9 637.57L638.97 639.52L639.91 636.12L637.15 633.93L640.67 633.78Z"/>
<path d="M649.6 628.48L650.83 631.78L654.35 631.93L651.59 634.12L652.53 637.52L649.6 635.57L646.67 637.52L647.61 634.12L644.85 631.93L648.37 631.78Z"/>
<path d="M657.3 625.88L658.53 629.18L662.05 629.33L659.29 631.52L660.23 634.92L657.3 632.97L654.37 634.92L655.31 631.52L652.55 629.33L656.07 629.18Z"/>
<path d="M665 622.48L666.23 625.78L669.75 625.93L666.99 628.12L667.93 631.52L665 629.57L662.07 631.52L663.01 628.12L660.25 625.93L663.77 625.78Z"/>
<path d="M672.7 619.48L673.93 622.78L677.45 622.93L674.69 625.12L675.63 628.52L672.7 626.57L669.77 628.52L670.71 625.12L667.95 622.93L671.47 622.78Z"/>
<path d="M680.4 617.08L681.63 620.38L685.15 620.53L682.39 622.72L683.33 626.12L680.4 624.17L677.47 626.12L678.41 622.72L675.65 620.53L679.17 620.38Z"/>
<path d="M688.1 615.08L689.33 618.38L692.85 618.53L690.09 620.72L691.03 624.12L688.1 622.17L685.17 624.12L686.11 620.72L683.35 618.53L686.87 618.38Z"/>
<path d="M695.8 612.48L697.03 615.78L700.55 615.93L697.79 618.12L698.73 621.52L695.8 619.57L692.87 621.52L693.81 618.12L691.05 615.93L694.57 615.78Z"/>
<path d="M703.5 610.08L704.73 613.38L708.25 613.53L705.49 615.72L706.43 619.12L703.5 617.17L700.57 619.12L701.51 615.72L698.75 613.53L702.27 613.38Z"/>
<path d="M711.2 607.48L712.43 610.78L715.95 610.93L713.19 613.12L714.13 616.52L711.2 614.57L708.27 616.52L709.21 613.12L706.45 610.93L709.97 610.78Z"/>
<path d="M718.9 604.48L720.13 607.78L723.65 607.93L720.89 610.12L721.83 613.52L718.9 611.57L715.97 613.52L716.91 610.12L714.15 607.93L717.67 607.78Z"/>
<path d="M726.6 601.88L727.83 605.18L731.35 605.33L728.59 607.52L729.53 610.92L726.6 608.97L723.67 610.92L724.61 607.52L721.85 605.33L725.37 605.18Z"/>
<path d="M734.3 599.08L735.53 602.38L739.05 602.53L736.29 604.72L737.23 608.12L734.3 606.17L731.37 608.12L732.31 604.72L729.55 602.53L733.07 602.38Z"/>
<path d="M742 596.48L743.23 599.78L746.75 599.93L743.99 602.12L744.93 605.52L742 603.57L739.07 605.52L740.01 602.12L737.25 599.93L740.77 599.78Z"/>
<path d="M749.7 593.08L750.93 596.38L754.45 596.53L751.69 598.72L752.63 602.12L749.7 600.17L746.77 602.12L747.71 598.72L744.95 596.53L748.47 596.38Z"/>
<path d="M757.4 590.08L758.63 593.38L762.15 593.53L759.39 595.72L760.33 599.12L757.4 597.17L754.47 599.12L755.41 595.72L752.65 593.53L756.17 593.38Z"/>
<path d="M765.1 586.78L766.33 590.08L769.85 590.23L767.09 592.42L768.03 595.82L765.1 593.87L762.17 595.82L763.11 592.42L760.35 590.23L763.87 590.08Z"/>
<path d="M772.8 583.48L774.03 586.78L777.55 586.93L774.79 589.12L775.73 592.52L772.8 590.57L769.87 592.52L770.81 589.12L768.05 586.93L771.57 586.78Z"/>
<path d="M780.5 580.18L781.73 583.48L785.25 583.63L782.49 585.82L783.43 589.22L780.5 587.27L777.57 589.22L778.51 585.82L775.75 583.63L779.27 583.48Z"/>
<path d="M788.2 576.98L789.43 580.28L792.95 580.43L790.19 582.62L791.13 586.02L788.2 584.07L785.27 586.02L786.21 582.62L783.45 580.43L786.97 580.28Z"/>
<path d="M795.9 573.88L797.13 577.18L800.65 577.33L797.89 579.52L798.83 582.92L795.9 580.97L792.97 582.92L793.91 579.52L791.15 577.33L794.67 577.18Z"/>
<path d="M803.6 570.28L804.83 573.58L808.35 573.73L805.59 575.92L806.53 579.32L803.6 577.37L800.67 579.32L801.61 575.92L798.85 573.73L802.37 573.58Z"/>
<path d="M811.3 567.28L812.53 570.58L816.05 570.73L813.29 572.92L814.23 576.32L811.3 574.37L808.37 576.32L809.31 572.92L806.55 570.73L810.07 570.58Z"/>
<path d="M819 563.88L820.23 567.18L823.75 567.33L820.99 569.52L821.93 572.92L819 570.97L816.07 572.92L817.01 569.52L814.25 567.33L817.77 567.18Z"/>
<path d="M826.7 560.18L827.93 563.48L831.45 563.63L828.69 565.82L829.63 569.22L826.7 567.27L823.77 569.22L824.71 565.82L821.95 563.63L825.47 563.48Z"/>
<path d="M834.4 556.88L835.63 560.18L839.15 560.33L836.39 562.52L837.33 565.92L834.4 563.97L831.47 565.92L832.41 562.52L829.65 560.33L833.17 560.18Z"/>
<path d="M842.1 553.48L843.33 556.78L846.85 556.93L844.09 559.12L845.03 562.52L842.1 560.57L839.17 562.52L840.11 559.12L837.35 556.93L840.87 556.78Z"/>
<path d="M849.8 550.08L851.03 553.38L854.55 553.53L851.79 555.72L852.73 559.12L849.8 557.17L846.87 559.12L847.81 555.72L845.05 553.53L848.57 553.38Z"/>
<path d="M857.5 546.48L858.73 549.78L862.25 549.93L859.49 552.12L860.43 555.52L857.5 553.57L854.57 555.52L855.51 552.12L852.75 549.93L856.27 549.78Z"/>
<path d="M865.2 542.48L866.43 545.78L869.95 545.93L867.19 548.12L868.13 551.52L865.2 549.57L862.27 551.52L863.21 548.12L860.45 545.93L863.97 545.78Z"/>
<path d="M872.9 539.08L874.13 542.38L877.65 542.53L874.89 544.72L875.83 548.12L872.9 546.17L869.97 548.12L870.91 544.72L868.15 542.53L871.67 542.38Z"/>
<path d="M880.6 535.08L881.83 538.38L885.35 538.53L882.59 540.72L883.53 544.12L880.6 542.17L877.67 544.12L878.61 540.72L875.85 538.53L879.37 538.38Z"/>
<path d="M888.3 530.48L889.53 533.78L893.05 533.93L890.29 536.12L891.23 539.52L888.3 537.57L885.37 539.52L886.31 536.12L883.55 533.93L887.07 533.78Z"/>
<path d="M896 527.08L897.23 530.38L900.75 530.53L897.99 532.72L898.93 536.12L896 534.17L893.07 536.12L894.01 532.72L891.25 530.53L894.77 530.38Z"/>
<path d="M903.7 523.48L904.93 526.78L908.45 526.93L905.69 529.12L906.63 532.52L903.7 530.57L900.77 532.52L901.71 529.12L898.95 526.93L902.47 526.78Z"/>
<path d="M911.4 519.48L912.63 522.78L916.15 522.93L913.39 525.12L914.33 528.52L911.4 526.57L908.47 528.52L909.41 525.12L906.65 522.93L910.17 522.78Z"/>
<path d="M919.1 516.48L920.33 519.78L923.85 519.93L921.09 522.12L922.03 525.52L919.1 523.57L916.17 525.52L917.11 522.12L914.35 519.93L917.87 519.78Z"/>
<path d="M926.8 512.48L928.03 515.78L931.55 515.93L928.79 518.12L929.73 521.52L926.8 519.57L923.87 521.52L924.81 518.12L922.05 515.93L925.57 515.78Z"/>
<path d="M934.5 507.48L935.73 510.78L939.25 510.93L936.49 513.12L937.43 516.52L934.5 514.57L931.57 516.52L932.51 513.12L929.75 510.93L933.27 510.78Z"/>
<path d="M942.2 503.08L943.43 506.38L946.95 506.53L944.19 508.72L945.13 512.12L942.2 510.17L939.27 512.12L940.21 508.72L937.45 506.53L940.97 506.38Z"/>
</g>
<polyline points="557.2,649 564.9,648.6 572.6,648 580.3,647.4 588,647 595.7,646.6 603.4,646 611.1,645.4 618.8,644 626.5,642 634.2,640 641.9,638.4 649.6,637 657.3,636 665,635 672.7,633.6 680.4,632.4 688.1,631.4 695.8,630.4 703.5,629.4 711.2,628.6 718.9,627.4 726.6,626 734.3,624.4 742,623 749.7,621 757.4,619.4 765.1,618 772.8,617 780.5,615 788.2,613 795.9,611.6 803.6,609 811.3,607 819,605 826.7,602.6 834.4,600 842.1,598 849.8,596 857.5,593.6 865.2,591 872.9,589.4 880.6,587.4 888.3,585.4 896,583.6 903.7,582 911.4,580.6 919.1,579 926.8,577 934.5,575 942.2,572.8" fill="none" stroke="#2c2c2c" stroke-width="0.7"/>
<g fill="none" stroke="#000" stroke-width="0.62">
<path d="M553.35 649H561.05M557.2 645.15V652.85"/>
<path d="M561.05 648.6H568.75M564.9 644.75V652.45"/>
<path d="M568.75 648H576.45M572.6 644.15V651.85"/>
<path d="M576.45 647.4H584.15M580.3 643.55V651.25"/>
<path d="M584.15 647H591.85M588 643.15V650.85"/>
<path d="M591.85 646.6H599.55M595.7 642.75V650.45"/>
<path d="M599.55 646H607.25M603.4 642.15V649.85"/>
<path d="M607.25 645.4H614.95M611.1 641.55V649.25"/>
<path d="M614.95 644H622.65M618.8 640.15V647.85"/>
<path d="M622.65 642H630.35M626.5 638.15V645.85"/>
<path d="M630.35 640H638.05M634.2 636.15V643.85"/>
<path d="M638.05 638.4H645.75M641.9 634.55V642.25"/>
<path d="M645.75 637H653.45M649.6 633.15V640.85"/>
<path d="M653.45 636H661.15M657.3 632.15V639.85"/>
<path d="M661.15 635H668.85M665 631.15V638.85"/>
<path d="M668.85 633.6H676.55M672.7 629.75V637.45"/>
<path d="M676.55 632.4H684.25M680.4 628.55V636.25"/>
<path d="M684.25 631.4H691.95M688.1 627.55V635.25"/>
<path d="M691.95 630.4H699.65M695.8 626.55V634.25"/>
<path d="M699.65 629.4H707.35M703.5 625.55V633.25"/>
<path d="M707.35 628.6H715.05M711.2 624.75V632.45"/>
<path d="M715.05 627.4H722.75M718.9 623.55V631.25"/>
<path d="M722.75 626H730.45M726.6 622.15V629.85"/>
<path d="M730.45 624.4H738.15M734.3 620.55V628.25"/>
<path d="M738.15 623H745.85M742 619.15V626.85"/>
<path d="M745.85 621H753.55M749.7 617.15V624.85"/>
<path d="M753.55 619.4H761.25M757.4 615.55V623.25"/>
<path d="M761.25 618H768.95M765.1 614.15V621.85"/>
<path d="M768.95 617H776.65M772.8 613.15V620.85"/>
<path d="M776.65 615H784.35M780.5 611.15V618.85"/>
<path d="M784.35 613H792.05M788.2 609.15V616.85"/>
<path d="M792.05 611.6H799.75M795.9 607.75V615.45"/>
<path d="M799.75 609H807.45M803.6 605.15V612.85"/>
<path d="M807.45 607H815.15M811.3 603.15V610.85"/>
<path d="M815.15 605H822.85M819 601.15V608.85"/>
<path d="M822.85 602.6H830.55M826.7 598.75V606.45"/>
<path d="M830.55 600H838.25M834.4 596.15V603.85"/>
<path d="M838.25 598H845.95M842.1 594.15V601.85"/>
<path d="M845.95 596H853.65M849.8 592.15V599.85"/>
<path d="M853.65 593.6H861.35M857.5 589.75V597.45"/>
<path d="M861.35 591H869.05M865.2 587.15V594.85"/>
<path d="M869.05 589.4H876.75M872.9 585.55V593.25"/>
<path d="M876.75 587.4H884.45M880.6 583.55V591.25"/>
<path d="M884.45 585.4H892.15M888.3 581.55V589.25"/>
<path d="M892.15 583.6H899.85M896 579.75V587.45"/>
<path d="M899.85 582H907.55M903.7 578.15V585.85"/>
<path d="M907.55 580.6H915.25M911.4 576.75V584.45"/>
<path d="M915.25 579H922.95M919.1 575.15V582.85"/>
<path d="M922.95 577H930.65M926.8 573.15V580.85"/>
<path d="M930.65 575H938.35M934.5 571.15V578.85"/>
<path d="M938.35 572.8H946.05M942.2 568.95V576.65"/>
</g>
<polyline points="557.2,687.4 564.9,687.4 572.6,687.4 580.3,687.4 588,688.4 595.7,688.4 603.4,688 611.1,687.6 618.8,687.4 626.5,687 634.2,687 641.9,686.6 649.6,686.4 657.3,686.4 665,686 672.7,686 680.4,685.6 688.1,685.6 695.8,685 703.5,684.4 711.2,683.6 718.9,682.6 726.6,681.6 734.3,681 742,680.6 749.7,680 757.4,679.4 765.1,678.4 772.8,677.4 780.5,676 788.2,675 795.9,674 803.6,672.6 811.3,671 819,669.6 826.7,668.6 834.4,667.6 842.1,668 849.8,667 857.5,665 865.2,664 872.9,663.4 880.6,662.6 888.3,661.6 896,660.6 903.7,660 911.4,659.6 919.1,659.4 926.8,659 934.5,658.6 942.2,658" fill="none" stroke="#2c2c2c" stroke-width="0.7"/>
<g fill="none" stroke="#000" stroke-width="1.1">
<path stroke-width="0.6" d="M552.62 687.4H561.78M557.2 682.82V691.98"/><path d="M553.35 683.55L561.05 691.25M553.35 691.25L561.05 683.55"/>
<path stroke-width="0.6" d="M560.32 687.4H569.48M564.9 682.82V691.98"/><path d="M561.05 683.55L568.75 691.25M561.05 691.25L568.75 683.55"/>
<path stroke-width="0.6" d="M568.02 687.4H577.18M572.6 682.82V691.98"/><path d="M568.75 683.55L576.45 691.25M568.75 691.25L576.45 683.55"/>
<path stroke-width="0.6" d="M575.72 687.4H584.88M580.3 682.82V691.98"/><path d="M576.45 683.55L584.15 691.25M576.45 691.25L584.15 683.55"/>
<path stroke-width="0.6" d="M583.42 688.4H592.58M588 683.82V692.98"/><path d="M584.15 684.55L591.85 692.25M584.15 692.25L591.85 684.55"/>
<path stroke-width="0.6" d="M591.12 688.4H600.28M595.7 683.82V692.98"/><path d="M591.85 684.55L599.55 692.25M591.85 692.25L599.55 684.55"/>
<path stroke-width="0.6" d="M598.82 688H607.98M603.4 683.42V692.58"/><path d="M599.55 684.15L607.25 691.85M599.55 691.85L607.25 684.15"/>
<path stroke-width="0.6" d="M606.52 687.6H615.68M611.1 683.02V692.18"/><path d="M607.25 683.75L614.95 691.45M607.25 691.45L614.95 683.75"/>
<path stroke-width="0.6" d="M614.22 687.4H623.38M618.8 682.82V691.98"/><path d="M614.95 683.55L622.65 691.25M614.95 691.25L622.65 683.55"/>
<path stroke-width="0.6" d="M621.92 687H631.08M626.5 682.42V691.58"/><path d="M622.65 683.15L630.35 690.85M622.65 690.85L630.35 683.15"/>
<path stroke-width="0.6" d="M629.62 687H638.78M634.2 682.42V691.58"/><path d="M630.35 683.15L638.05 690.85M630.35 690.85L638.05 683.15"/>
<path stroke-width="0.6" d="M637.32 686.6H646.48M641.9 682.02V691.18"/><path d="M638.05 682.75L645.75 690.45M638.05 690.45L645.75 682.75"/>
<path stroke-width="0.6" d="M645.02 686.4H654.18M649.6 681.82V690.98"/><path d="M645.75 682.55L653.45 690.25M645.75 690.25L653.45 682.55"/>
<path stroke-width="0.6" d="M652.72 686.4H661.88M657.3 681.82V690.98"/><path d="M653.45 682.55L661.15 690.25M653.45 690.25L661.15 682.55"/>
<path stroke-width="0.6" d="M660.42 686H669.58M665 681.42V690.58"/><path d="M661.15 682.15L668.85 689.85M661.15 689.85L668.85 682.15"/>
<path stroke-width="0.6" d="M668.12 686H677.28M672.7 681.42V690.58"/><path d="M668.85 682.15L676.55 689.85M668.85 689.85L676.55 682.15"/>
<path stroke-width="0.6" d="M675.82 685.6H684.98M680.4 681.02V690.18"/><path d="M676.55 681.75L684.25 689.45M676.55 689.45L684.25 681.75"/>
<path stroke-width="0.6" d="M683.52 685.6H692.68M688.1 681.02V690.18"/><path d="M684.25 681.75L691.95 689.45M684.25 689.45L691.95 681.75"/>
<path stroke-width="0.6" d="M691.22 685H700.38M695.8 680.42V689.58"/><path d="M691.95 681.15L699.65 688.85M691.95 688.85L699.65 681.15"/>
<path stroke-width="0.6" d="M698.92 684.4H708.08M703.5 679.82V688.98"/><path d="M699.65 680.55L707.35 688.25M699.65 688.25L707.35 680.55"/>
<path stroke-width="0.6" d="M706.62 683.6H715.78M711.2 679.02V688.18"/><path d="M707.35 679.75L715.05 687.45M707.35 687.45L715.05 679.75"/>
<path stroke-width="0.6" d="M714.32 682.6H723.48M718.9 678.02V687.18"/><path d="M715.05 678.75L722.75 686.45M715.05 686.45L722.75 678.75"/>
<path stroke-width="0.6" d="M722.02 681.6H731.18M726.6 677.02V686.18"/><path d="M722.75 677.75L730.45 685.45M722.75 685.45L730.45 677.75"/>
<path stroke-width="0.6" d="M729.72 681H738.88M734.3 676.42V685.58"/><path d="M730.45 677.15L738.15 684.85M730.45 684.85L738.15 677.15"/>
<path stroke-width="0.6" d="M737.42 680.6H746.58M742 676.02V685.18"/><path d="M738.15 676.75L745.85 684.45M738.15 684.45L745.85 676.75"/>
<path stroke-width="0.6" d="M745.12 680H754.28M749.7 675.42V684.58"/><path d="M745.85 676.15L753.55 683.85M745.85 683.85L753.55 676.15"/>
<path stroke-width="0.6" d="M752.82 679.4H761.98M757.4 674.82V683.98"/><path d="M753.55 675.55L761.25 683.25M753.55 683.25L761.25 675.55"/>
<path stroke-width="0.6" d="M760.52 678.4H769.68M765.1 673.82V682.98"/><path d="M761.25 674.55L768.95 682.25M761.25 682.25L768.95 674.55"/>
<path stroke-width="0.6" d="M768.22 677.4H777.38M772.8 672.82V681.98"/><path d="M768.95 673.55L776.65 681.25M768.95 681.25L776.65 673.55"/>
<path stroke-width="0.6" d="M775.92 676H785.08M780.5 671.42V680.58"/><path d="M776.65 672.15L784.35 679.85M776.65 679.85L784.35 672.15"/>
<path stroke-width="0.6" d="M783.62 675H792.78M788.2 670.42V679.58"/><path d="M784.35 671.15L792.05 678.85M784.35 678.85L792.05 671.15"/>
<path stroke-width="0.6" d="M791.32 674H800.48M795.9 669.42V678.58"/><path d="M792.05 670.15L799.75 677.85M792.05 677.85L799.75 670.15"/>
<path stroke-width="0.6" d="M799.02 672.6H808.18M803.6 668.02V677.18"/><path d="M799.75 668.75L807.45 676.45M799.75 676.45L807.45 668.75"/>
<path stroke-width="0.6" d="M806.72 671H815.88M811.3 666.42V675.58"/><path d="M807.45 667.15L815.15 674.85M807.45 674.85L815.15 667.15"/>
<path stroke-width="0.6" d="M814.42 669.6H823.58M819 665.02V674.18"/><path d="M815.15 665.75L822.85 673.45M815.15 673.45L822.85 665.75"/>
<path stroke-width="0.6" d="M822.12 668.6H831.28M826.7 664.02V673.18"/><path d="M822.85 664.75L830.55 672.45M822.85 672.45L830.55 664.75"/>
<path stroke-width="0.6" d="M829.82 667.6H838.98M834.4 663.02V672.18"/><path d="M830.55 663.75L838.25 671.45M830.55 671.45L838.25 663.75"/>
<path stroke-width="0.6" d="M837.52 668H846.68M842.1 663.42V672.58"/><path d="M838.25 664.15L845.95 671.85M838.25 671.85L845.95 664.15"/>
<path stroke-width="0.6" d="M845.22 667H854.38M849.8 662.42V671.58"/><path d="M845.95 663.15L853.65 670.85M845.95 670.85L853.65 663.15"/>
<path stroke-width="0.6" d="M852.92 665H862.08M857.5 660.42V669.58"/><path d="M853.65 661.15L861.35 668.85M853.65 668.85L861.35 661.15"/>
<path stroke-width="0.6" d="M860.62 664H869.78M865.2 659.42V668.58"/><path d="M861.35 660.15L869.05 667.85M861.35 667.85L869.05 660.15"/>
<path stroke-width="0.6" d="M868.32 663.4H877.48M872.9 658.82V667.98"/><path d="M869.05 659.55L876.75 667.25M869.05 667.25L876.75 659.55"/>
<path stroke-width="0.6" d="M876.02 662.6H885.18M880.6 658.02V667.18"/><path d="M876.75 658.75L884.45 666.45M876.75 666.45L884.45 658.75"/>
<path stroke-width="0.6" d="M883.72 661.6H892.88M888.3 657.02V666.18"/><path d="M884.45 657.75L892.15 665.45M884.45 665.45L892.15 657.75"/>
<path stroke-width="0.6" d="M891.42 660.6H900.58M896 656.02V665.18"/><path d="M892.15 656.75L899.85 664.45M892.15 664.45L899.85 656.75"/>
<path stroke-width="0.6" d="M899.12 660H908.28M903.7 655.42V664.58"/><path d="M899.85 656.15L907.55 663.85M899.85 663.85L907.55 656.15"/>
<path stroke-width="0.6" d="M906.82 659.6H915.98M911.4 655.02V664.18"/><path d="M907.55 655.75L915.25 663.45M907.55 663.45L915.25 655.75"/>
<path stroke-width="0.6" d="M914.52 659.4H923.68M919.1 654.82V663.98"/><path d="M915.25 655.55L922.95 663.25M915.25 663.25L922.95 655.55"/>
<path stroke-width="0.6" d="M922.22 659H931.38M926.8 654.42V663.58"/><path d="M922.95 655.15L930.65 662.85M922.95 662.85L930.65 655.15"/>
<path stroke-width="0.6" d="M929.92 658.6H939.08M934.5 654.02V663.18"/><path d="M930.65 654.75L938.35 662.45M930.65 662.45L938.35 654.75"/>
<path stroke-width="0.6" d="M937.62 658H946.78M942.2 653.42V662.58"/><path d="M938.35 654.15L946.05 661.85M938.35 661.85L946.05 654.15"/>
</g>
</g>
<g stroke="#303030" fill="none">
<path stroke-width="1.35" d="M556.9 406V728.35"/>
<path stroke-width="1.35" d="M556.23 727.7H962"/>
</g>
<g stroke="#303030" stroke-width="1.2" fill="none">
<path d="M556.9 709.1H562.5M556.9 671.29H562.5M556.9 633.48H562.5M556.9 595.66H562.5M556.9 557.85H562.5M556.9 520.04H562.5M556.9 482.23H562.5M556.9 444.41H562.5M556.9 406.6H562.5M556.9 690.19H559.7M556.9 652.38H559.7M556.9 614.57H559.7M556.9 576.76H559.7M556.9 538.94H559.7M556.9 501.13H559.7M556.9 463.32H559.7M556.9 425.51H559.7M576.4 727.7V722.1M672.65 727.7V722.1M768.9 727.7V722.1M865.15 727.7V722.1M961.4 727.7V722.1M624.52 727.7V724.9M720.77 727.7V724.9M817.02 727.7V724.9M913.27 727.7V724.9"/>
</g>
<line x1="640.3" y1="422" x2="681" y2="422" stroke="#b4b4b4" stroke-width="1.2"/>
<g fill="#000">
<rect x="657.26" y="418.46" width="7.07" height="7.07"/>
</g>
<text x="686.3" y="429.5" font-size="16.6" text-anchor="start"  >1.594</text>
<line x1="640.3" y1="444.3" x2="681" y2="444.3" stroke="#b4b4b4" stroke-width="1.2"/>
<g fill="#000">
<circle cx="660.8" cy="444.3" r="4"/>
</g>
<text x="686.3" y="451.8" font-size="16.6" text-anchor="start"  >1.568</text>
<line x1="640.3" y1="466.7" x2="681" y2="466.7" stroke="#b4b4b4" stroke-width="1.2"/>
<g fill="#000">
<path d="M660.8 461.28L665.58 469.49L656.02 469.49Z"/>
</g>
<text x="686.3" y="474.2" font-size="16.6" text-anchor="start"  >1.542</text>
<line x1="640.3" y1="489" x2="681" y2="489" stroke="#b4b4b4" stroke-width="1.2"/>
<g fill="#000">
<path d="M660.8 484.48L662.03 487.78L665.55 487.93L662.79 490.12L663.73 493.52L660.8 491.57L657.87 493.52L658.81 490.12L656.05 487.93L659.57 487.78Z"/>
</g>
<text x="686.3" y="496.5" font-size="16.6" text-anchor="start"  >1.515</text>
<line x1="640.3" y1="511.5" x2="681" y2="511.5" stroke="#b4b4b4" stroke-width="1.2"/>
<g fill="none" stroke="#000" stroke-width="0.62">
<path d="M656.95 511.5H664.65M660.8 507.65V515.35"/>
</g>
<text x="686.3" y="519" font-size="16.6" text-anchor="start"  >1.489</text>
<line x1="640.3" y1="533.9" x2="681" y2="533.9" stroke="#b4b4b4" stroke-width="1.2"/>
<g fill="none" stroke="#000" stroke-width="1.1">
<path stroke-width="0.6" d="M656.22 533.9H665.38M660.8 529.32V538.48"/><path d="M656.95 530.05L664.65 537.75M656.95 537.75L664.65 530.05"/>
</g>
<text x="685.9" y="541.2" font-size="16" text-anchor="start">水</text>
<text x="182.7" y="358.3" font-size="16.5" text-anchor="start" textLength="68" lengthAdjust="spacing">入射波长</text>
<text x="251" y="358" font-size="16.5" text-anchor="start"  >/nm</text>
<g transform="translate(4 207.2) rotate(-90)">
<text x="-0.6" y="13.2" font-size="16" text-anchor="start" textLength="50.5" lengthAdjust="spacing">透射率</text>
<g transform="translate(50.5 13.3) scale(1 1.07)">
<text x="0" y="0" font-size="16.5" text-anchor="start"  >/%</text>
</g>
</g>
<text x="682.5" y="353.3" font-size="16.5" text-anchor="start" textLength="68" lengthAdjust="spacing">入射波长</text>
<text x="750.8" y="353" font-size="16.5" text-anchor="start"  >/nm</text>
<g transform="translate(501.5 205.3) rotate(-90)">
<text x="-0.6" y="13.2" font-size="16" text-anchor="start" textLength="50.5" lengthAdjust="spacing">透射率</text>
<g transform="translate(50.5 13.3) scale(1 1.07)">
<text x="0" y="0" font-size="16.5" text-anchor="start"  >/%</text>
</g>
</g>
<text x="191.5" y="778.7" font-size="16.5" text-anchor="start" textLength="68" lengthAdjust="spacing">入射波长</text>
<text x="259.8" y="778.4" font-size="16.5" text-anchor="start"  >/nm</text>
<g transform="translate(1.7 598.9) rotate(-90)">
<text x="-0.6" y="13.2" font-size="16" text-anchor="start" textLength="50.5" lengthAdjust="spacing">透射率</text>
<g transform="translate(50.5 13.3) scale(1 1.07)">
<text x="0" y="0" font-size="16.5" text-anchor="start"  >/%</text>
</g>
</g>
<text x="704.5" y="778.3" font-size="16.5" text-anchor="start" textLength="68" lengthAdjust="spacing">入射波长</text>
<text x="772.8" y="778" font-size="16.5" text-anchor="start"  >/nm</text>
<g transform="translate(506.9 593.6) rotate(-90)">
<text x="-0.6" y="13.2" font-size="16" text-anchor="start" textLength="50.5" lengthAdjust="spacing">透射率</text>
<g transform="translate(50.5 13.3) scale(1 1.07)">
<text x="0" y="0" font-size="16.5" text-anchor="start"  >/%</text>
</g>
</g>
<text x="194.6" y="389" font-size="16.5" >(a) 1<tspan dy="-5.6" font-size="10">#</tspan></text>
<text x="721" y="382" font-size="16.5" >(b) 2<tspan dy="-5.6" font-size="10">#</tspan></text>
<text x="228.6" y="808.4" font-size="16.5" >(c) 3<tspan dy="-5.6" font-size="10">#</tspan></text>
<text x="712.6" y="807.2" font-size="16.5" >(d) 4<tspan dy="-5.6" font-size="10">#</tspan></text>
</svg></body></html>
